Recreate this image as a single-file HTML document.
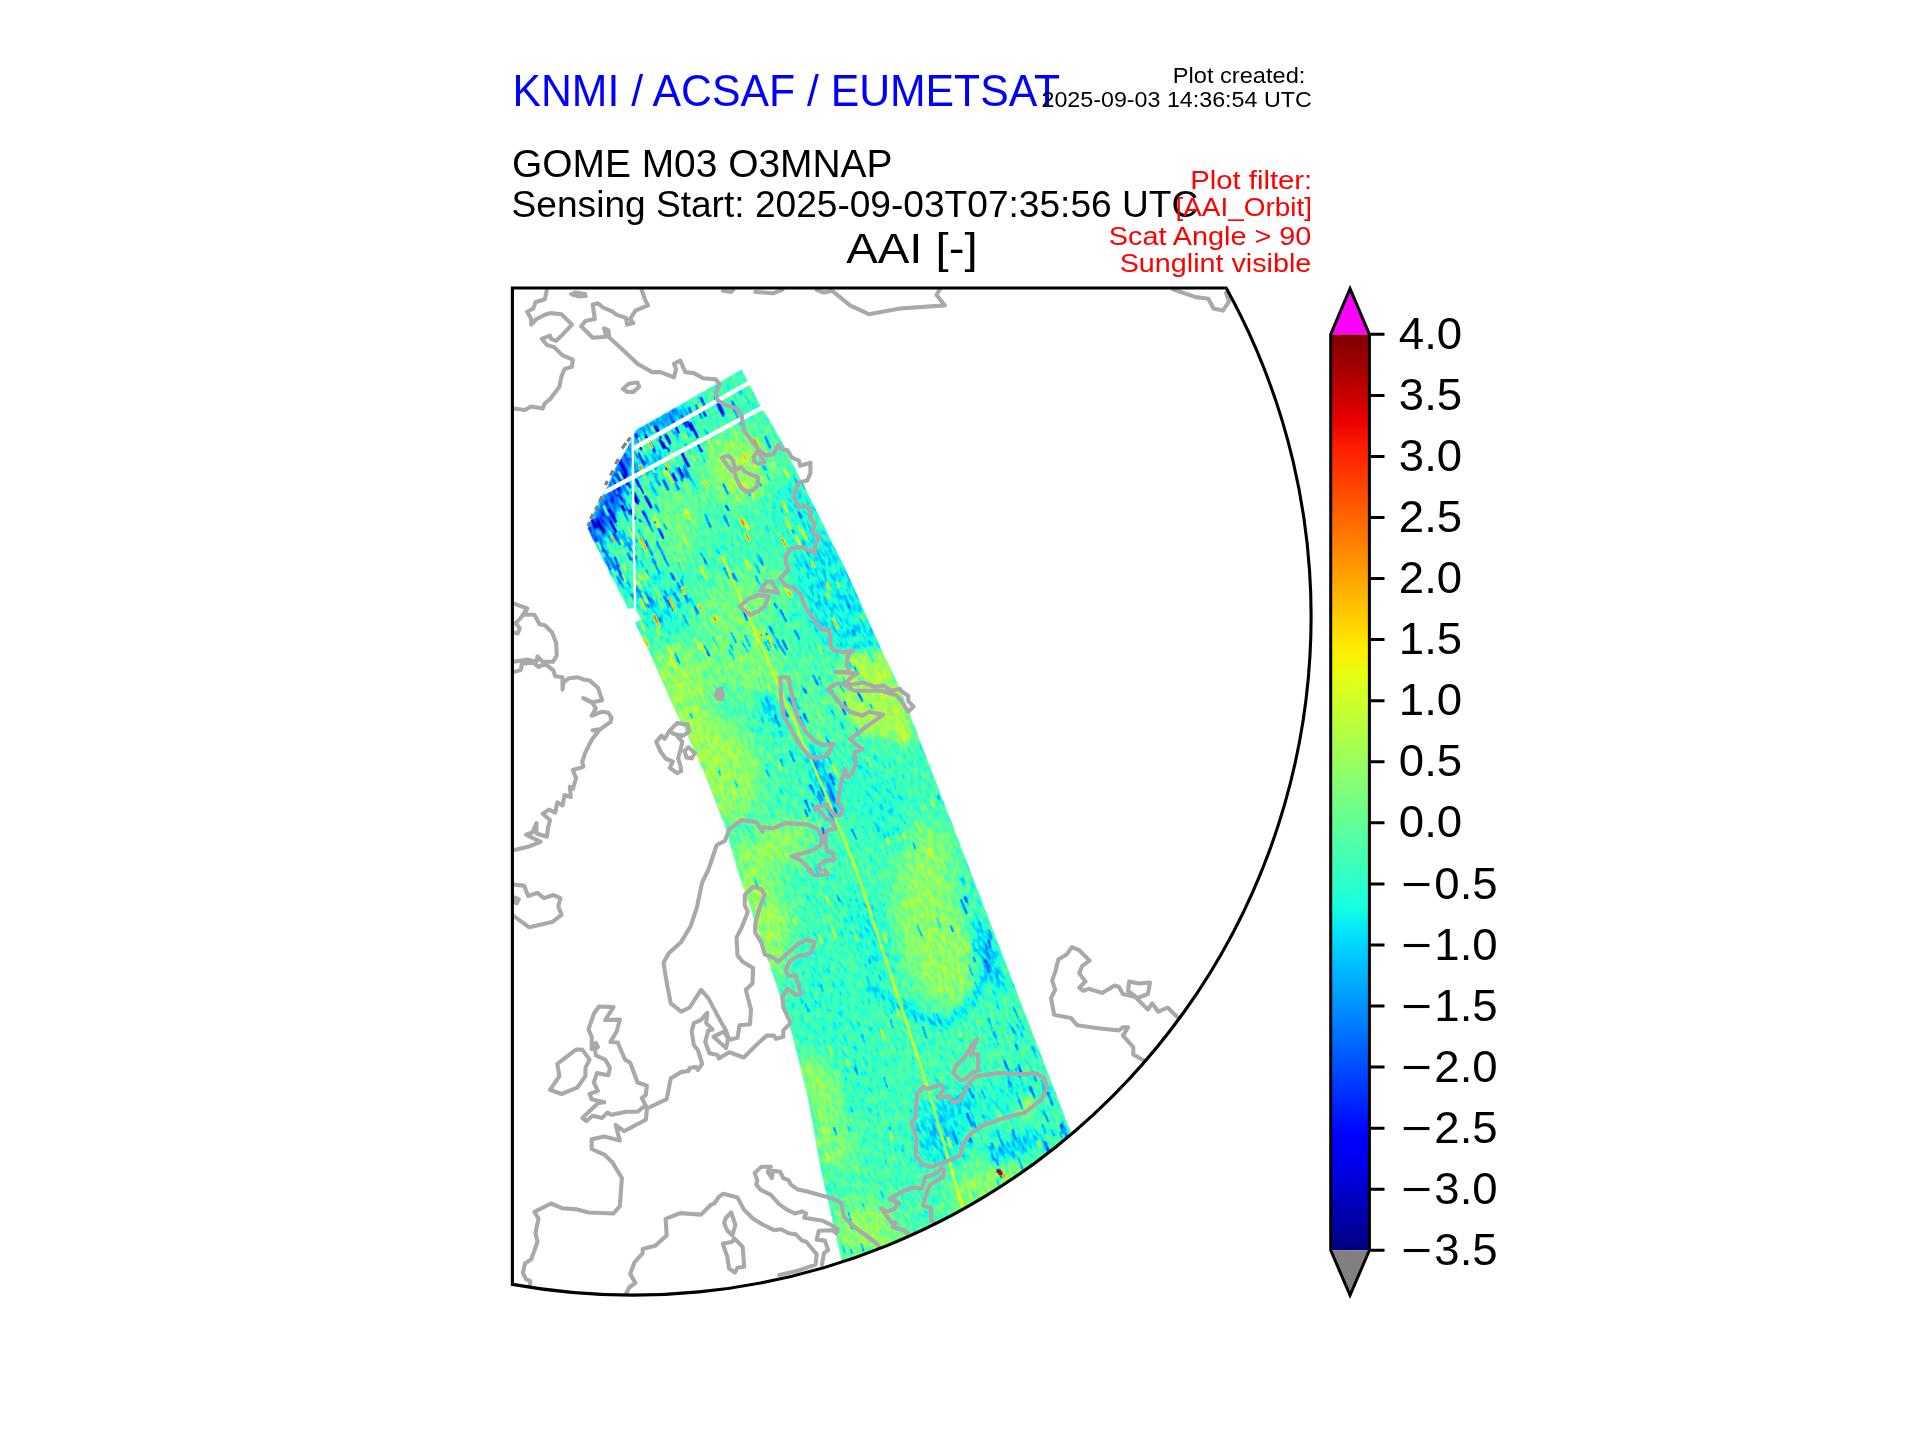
<!DOCTYPE html>
<html><head><meta charset="utf-8"><title>AAI</title>
<style>
html,body{margin:0;padding:0;background:#fff;overflow:hidden}
svg{display:block}
text{font-family:"Liberation Sans",sans-serif}
</style></head><body>
<svg width="1920" height="1440" viewBox="0 0 1920 1440">
<defs>
<linearGradient id="jet" x1="0" y1="0" x2="0" y2="1"><stop offset="0.0000" stop-color="#800000"/><stop offset="0.0312" stop-color="#9f0000"/><stop offset="0.0625" stop-color="#c40000"/><stop offset="0.0938" stop-color="#e80000"/><stop offset="0.1250" stop-color="#ff1e00"/><stop offset="0.1562" stop-color="#ff3b00"/><stop offset="0.1875" stop-color="#ff5900"/><stop offset="0.2188" stop-color="#ff7700"/><stop offset="0.2500" stop-color="#ff9400"/><stop offset="0.2812" stop-color="#ffb200"/><stop offset="0.3125" stop-color="#ffd000"/><stop offset="0.3438" stop-color="#feed00"/><stop offset="0.3750" stop-color="#e4ff13"/><stop offset="0.4062" stop-color="#caff2c"/><stop offset="0.4375" stop-color="#b1ff46"/><stop offset="0.4688" stop-color="#97ff60"/><stop offset="0.5000" stop-color="#7dff7a"/><stop offset="0.5312" stop-color="#63ff94"/><stop offset="0.5625" stop-color="#49ffad"/><stop offset="0.5938" stop-color="#30ffc7"/><stop offset="0.6250" stop-color="#16ffe1"/><stop offset="0.6562" stop-color="#00e0fb"/><stop offset="0.6875" stop-color="#00c0ff"/><stop offset="0.7188" stop-color="#00a0ff"/><stop offset="0.7500" stop-color="#0080ff"/><stop offset="0.7812" stop-color="#0060ff"/><stop offset="0.8125" stop-color="#0040ff"/><stop offset="0.8438" stop-color="#0020ff"/><stop offset="0.8750" stop-color="#0000ff"/><stop offset="0.9062" stop-color="#0000ed"/><stop offset="0.9375" stop-color="#0000c8"/><stop offset="0.9688" stop-color="#0000a4"/><stop offset="1.0000" stop-color="#000080"/></linearGradient>
<clipPath id="fclip"><path d="M512.4,288.0 L1226.2,288.0 A678.5,678.5 0 0 1 512.4,1284.4 Z"/></clipPath>
<clipPath id="sclip"><path d="M741.7,369.6 L760.4,405.4 L779.2,436.7 L800,478.3 L825,528.3 L845.8,570 L881.2,649.2 L900,688.8 L910.4,715.8 L970,870 L1070.8,1132.5 L1085,1170 L1000,1300 L850,1300 L841.7,1260.4 L820.8,1170 L808.3,1099.2 L791.7,1032.5 L775,980.4 L737.5,870 L725,826.2 L708.3,782.5 L687.5,734.6 L672.9,705.4 L650,653.3 L643.5,641 L635.2,622.3 L641.3,620 L635,607.7 L628,608.7 L608.3,570 L587.5,528.3 L598,503 L608,486 L616,467 L625,452 L631,441 L635.4,430.4Z"/></clipPath>
<filter id="bl" x="-50%" y="-50%" width="200%" height="200%" color-interpolation-filters="sRGB"><feGaussianBlur stdDeviation="10"/></filter>
<filter id="bl2" x="-50%" y="-50%" width="200%" height="200%" color-interpolation-filters="sRGB"><feGaussianBlur stdDeviation="4.5"/></filter>
<filter id="jetf" filterUnits="userSpaceOnUse" x="-200" y="300" width="1400" height="1400" color-interpolation-filters="sRGB">
<feTurbulence type="fractalNoise" baseFrequency="0.33 0.11" numOctaves="2" seed="7" result="n"/>
<feColorMatrix in="n" type="matrix" values="1 0 0 0 0 1 0 0 0 0 1 0 0 0 0 0 0 0 0 1" result="ng"/>
<feComposite in="SourceGraphic" in2="ng" operator="arithmetic" k1="0" k2="1" k3="0.26" k4="-0.13" result="v"/>
<feComponentTransfer in="v" result="c"><feFuncR type="table" tableValues="0.000 0.000 0.000 0.000 0.000 0.000 0.000 0.000 0.000 0.000 0.000 0.000 0.000 0.000 0.000 0.000 0.000 0.000 0.000 0.000 0.000 0.000 0.000 0.035 0.085 0.136 0.187 0.237 0.288 0.338 0.389 0.440 0.490 0.541 0.591 0.642 0.693 0.743 0.794 0.844 0.895 0.946 0.996 1.000 1.000 1.000 1.000 1.000 1.000 1.000 1.000 1.000 1.000 1.000 1.000 1.000 1.000 0.981 0.910 0.839 0.767 0.696 0.625 0.553 0.500"/><feFuncG type="table" tableValues="0.000 0.000 0.000 0.000 0.000 0.000 0.000 0.000 0.002 0.065 0.127 0.190 0.253 0.316 0.378 0.441 0.504 0.567 0.629 0.692 0.755 0.818 0.880 0.943 1.000 1.000 1.000 1.000 1.000 1.000 1.000 1.000 1.000 1.000 1.000 1.000 1.000 1.000 1.000 1.000 1.000 0.988 0.930 0.872 0.814 0.756 0.698 0.640 0.582 0.524 0.466 0.407 0.349 0.291 0.233 0.175 0.117 0.059 0.001 0.000 0.000 0.000 0.000 0.000 0.000"/><feFuncB type="table" tableValues="0.500 0.571 0.643 0.714 0.785 0.857 0.928 0.999 1.000 1.000 1.000 1.000 1.000 1.000 1.000 1.000 1.000 1.000 1.000 1.000 1.000 1.000 0.984 0.933 0.882 0.832 0.781 0.731 0.680 0.629 0.579 0.528 0.478 0.427 0.376 0.326 0.275 0.225 0.174 0.123 0.073 0.022 0.000 0.000 0.000 0.000 0.000 0.000 0.000 0.000 0.000 0.000 0.000 0.000 0.000 0.000 0.000 0.000 0.000 0.000 0.000 0.000 0.000 0.000 0.000"/></feComponentTransfer>
<feComposite in="c" in2="SourceAlpha" operator="in"/>
</filter>
</defs>
<rect width="1920" height="1440" fill="#fff"/>
<g clip-path="url(#fclip)">
<g transform="rotate(-24)" filter="url(#jetf)"><g transform="rotate(24)">
<g clip-path="url(#sclip)">
<rect x="500" y="280" width="700" height="1040" fill="#6d6d6d"/>
<g filter="url(#bl)"><ellipse cx="740" cy="468" rx="34" ry="34" transform="rotate(0 740 468)" fill="#888888"/><ellipse cx="672" cy="525" rx="32" ry="42" transform="rotate(20 672 525)" fill="#797979"/><ellipse cx="800" cy="520" rx="22" ry="50" transform="rotate(-25 800 520)" fill="#636363"/><ellipse cx="835" cy="595" rx="30" ry="62" transform="rotate(-25 835 595)" fill="#5a5a5a"/><ellipse cx="655" cy="600" rx="16" ry="38" transform="rotate(-24 655 600)" fill="#5c5c5c"/><ellipse cx="740" cy="600" rx="50" ry="28" transform="rotate(-24 740 600)" fill="#7a7a7a"/><ellipse cx="680" cy="682" rx="30" ry="36" transform="rotate(-24 680 682)" fill="#868686"/><ellipse cx="868" cy="692" rx="26" ry="38" transform="rotate(-24 868 692)" fill="#888888"/><ellipse cx="718" cy="768" rx="40" ry="55" transform="rotate(-24 718 768)" fill="#868686"/><ellipse cx="700" cy="740" rx="18" ry="50" transform="rotate(-24 700 740)" fill="#8b8b8b"/><ellipse cx="808" cy="700" rx="24" ry="40" transform="rotate(-24 808 700)" fill="#747474"/><ellipse cx="745" cy="655" rx="34" ry="46" transform="rotate(-24 745 655)" fill="#7e7e7e"/><ellipse cx="878" cy="800" rx="24" ry="50" transform="rotate(-24 878 800)" fill="#646464"/><ellipse cx="930" cy="850" rx="20" ry="24" transform="rotate(-20 930 850)" fill="#868686"/><ellipse cx="925" cy="885" rx="28" ry="36" transform="rotate(-20 925 885)" fill="#838383"/><ellipse cx="770" cy="848" rx="42" ry="22" transform="rotate(-20 770 848)" fill="#858585"/><ellipse cx="766" cy="922" rx="24" ry="58" transform="rotate(-20 766 922)" fill="#888888"/><ellipse cx="870" cy="932" rx="16" ry="44" transform="rotate(-20 870 932)" fill="#5f5f5f"/><ellipse cx="935" cy="942" rx="34" ry="70" transform="rotate(-20 935 942)" fill="#858585"/><ellipse cx="830" cy="1020" rx="34" ry="100" transform="rotate(-18 830 1020)" fill="#686868"/><ellipse cx="812" cy="1078" rx="14" ry="24" transform="rotate(-15 812 1078)" fill="#8b8b8b"/><ellipse cx="833" cy="1140" rx="20" ry="32" transform="rotate(-15 833 1140)" fill="#818181"/><ellipse cx="940" cy="1130" rx="24" ry="32" transform="rotate(0 940 1130)" fill="#555555"/><ellipse cx="1003" cy="1098" rx="40" ry="20" transform="rotate(-20 1003 1098)" fill="#636363"/><ellipse cx="868" cy="1228" rx="36" ry="30" transform="rotate(-20 868 1228)" fill="#858585"/><ellipse cx="988" cy="1186" rx="42" ry="20" transform="rotate(-25 988 1186)" fill="#858585"/><ellipse cx="909" cy="1206" rx="26" ry="20" transform="rotate(0 909 1206)" fill="#6d6d6d"/><ellipse cx="826" cy="1090" rx="14" ry="22" transform="rotate(-15 826 1090)" fill="#888888"/></g><g filter="url(#bl2)"><ellipse cx="604" cy="517" rx="10" ry="66" transform="rotate(24 604 517)" fill="#333333"/><ellipse cx="618" cy="468" rx="8" ry="32" transform="rotate(30 618 468)" fill="#3d3d3d"/><ellipse cx="661" cy="421" rx="30" ry="8" transform="rotate(-28 661 421)" fill="#444444"/><ellipse cx="650" cy="462" rx="18" ry="10" transform="rotate(-28 650 462)" fill="#4e4e4e"/><ellipse cx="823" cy="780" rx="8" ry="40" transform="rotate(-24 823 780)" fill="#505050"/><ellipse cx="770" cy="710" rx="7" ry="18" transform="rotate(-24 770 710)" fill="#525252"/><ellipse cx="988" cy="955" rx="9" ry="42" transform="rotate(-20 988 955)" fill="#555555"/><ellipse cx="1014" cy="1147" rx="30" ry="10" transform="rotate(-25 1014 1147)" fill="#555555"/><ellipse cx="1026" cy="1106" rx="10" ry="9" transform="rotate(0 1026 1106)" fill="#8f8f8f"/><ellipse cx="960" cy="1100" rx="14" ry="8" transform="rotate(0 960 1100)" fill="#555555"/><ellipse cx="905" cy="735" rx="6" ry="10" transform="rotate(0 905 735)" fill="#a0a0a0"/><path d="M846,654 L885,652 L912,712 L902,738 L862,734 L840,700Z" fill="#8c8c8c"/><path d="M803,562 L843,566 L884,648 L846,650 L816,620Z" fill="#5e5e5e"/><path d="M868,985 Q895,1008 940,1024 Q982,1012 988,950" fill="none" stroke="#4e4e4e" stroke-width="7"/></g>
<g fill="none" stroke-linecap="butt"><path d="M610.4,480.4l7.9,15.9" stroke="#1e1e1e" stroke-width="2.6"/><path d="M619.6,470.5l6.4,12.8" stroke="#131313" stroke-width="2.6"/><path d="M672.4,420.5l6.4,12.8" stroke="#141414" stroke-width="2.6"/><path d="M609.1,508.4l8.7,17.4" stroke="#0e0e0e" stroke-width="2.6"/><path d="M643.4,595.6l6.1,12.1" stroke="#3a3a3a" stroke-width="2.6"/><path d="M599.4,542.4l5.1,10.2" stroke="#343434" stroke-width="2.6"/><path d="M683.8,464.6l8.8,17.6" stroke="#414141" stroke-width="2.6"/><path d="M715.0,395.7l8.2,16.4" stroke="#434343" stroke-width="2.6"/><path d="M636.6,431.7l5.5,11.1" stroke="#4c4c4c" stroke-width="2.6"/><path d="M636.6,513.5l4.5,9.0" stroke="#303030" stroke-width="2.6"/><path d="M645.0,540.4l7.8,15.6" stroke="#3d3d3d" stroke-width="2.6"/><path d="M617.2,574.0l7.8,15.6" stroke="#4c4c4c" stroke-width="2.6"/><path d="M664.3,433.1l6.1,12.3" stroke="#525252" stroke-width="2.6"/><path d="M655.2,425.8l6.3,12.5" stroke="#131313" stroke-width="2.6"/><path d="M619.9,461.4l7.3,14.5" stroke="#0d0d0d" stroke-width="2.6"/><path d="M690.1,598.9l7.7,15.4" stroke="#555555" stroke-width="2.6"/><path d="M652.2,470.4l7.6,15.1" stroke="#2c2c2c" stroke-width="2.6"/><path d="M688.6,407.6l5.0,10.0" stroke="#373737" stroke-width="2.6"/><path d="M674.8,481.3l4.3,8.6" stroke="#434343" stroke-width="2.6"/><path d="M619.9,538.2l3.6,7.2" stroke="#3a3a3a" stroke-width="2.6"/><path d="M631.5,593.3l4.1,8.2" stroke="#404040" stroke-width="2.6"/><path d="M621.7,505.1l3.1,6.3" stroke="#070707" stroke-width="2.6"/><path d="M606.4,496.7l6.7,13.3" stroke="#454545" stroke-width="2.6"/><path d="M678.4,414.7l5.5,11.0" stroke="#454545" stroke-width="2.6"/><path d="M640.2,590.7l4.5,9.1" stroke="#5a5a5a" stroke-width="2.6"/><path d="M615.0,534.4l4.6,9.2" stroke="#454545" stroke-width="2.6"/><path d="M603.3,536.8l3.5,7.0" stroke="#474747" stroke-width="2.6"/><path d="M666.2,435.0l4.3,8.6" stroke="#111111" stroke-width="2.6"/><path d="M626.0,578.3l4.8,9.7" stroke="#4b4b4b" stroke-width="2.6"/><path d="M628.9,537.1l7.8,15.5" stroke="#3e3e3e" stroke-width="2.6"/><path d="M623.4,482.5l6.1,12.3" stroke="#343434" stroke-width="2.6"/><path d="M590.2,524.0l5.3,10.6" stroke="#3e3e3e" stroke-width="2.6"/><path d="M698.7,402.2l7.1,14.2" stroke="#262626" stroke-width="2.6"/><path d="M615.7,487.1l7.4,14.8" stroke="#2c2c2c" stroke-width="2.6"/><path d="M626.7,449.4l5.1,10.3" stroke="#4f4f4f" stroke-width="2.6"/><path d="M623.2,533.6l8.6,17.1" stroke="#343434" stroke-width="2.6"/><path d="M596.4,518.5l5.4,10.9" stroke="#151515" stroke-width="2.6"/><path d="M675.5,466.6l7.3,14.7" stroke="#494949" stroke-width="2.6"/><path d="M635.2,433.9l7.9,15.8" stroke="#191919" stroke-width="2.6"/><path d="M609.8,482.0l3.8,7.6" stroke="#2f2f2f" stroke-width="2.6"/><path d="M614.4,557.2l5.0,10.0" stroke="#353535" stroke-width="2.6"/><path d="M682.9,468.6l4.8,9.6" stroke="#4a4a4a" stroke-width="2.6"/><path d="M680.3,413.8l6.3,12.7" stroke="#3a3a3a" stroke-width="2.6"/><path d="M635.8,479.1l7.7,15.3" stroke="#131313" stroke-width="2.6"/><path d="M627.5,504.0l7.7,15.4" stroke="#141414" stroke-width="2.6"/><path d="M610.7,480.0l7.0,14.0" stroke="#4b4b4b" stroke-width="2.6"/><path d="M666.4,467.5l7.0,13.9" stroke="#080808" stroke-width="2.6"/><path d="M605.3,491.4l5.0,9.9" stroke="#454545" stroke-width="2.6"/><path d="M683.5,420.7l3.5,6.9" stroke="#0f0f0f" stroke-width="2.6"/><path d="M624.3,590.2l4.1,8.3" stroke="#5d5d5d" stroke-width="2.6"/><path d="M627.3,458.3l3.7,7.4" stroke="#2e2e2e" stroke-width="2.6"/><path d="M685.4,428.2l4.5,9.1" stroke="#555555" stroke-width="2.6"/><path d="M689.9,598.1l8.4,16.7" stroke="#4b4b4b" stroke-width="2.6"/><path d="M653.8,585.8l4.1,8.1" stroke="#535353" stroke-width="2.6"/><path d="M607.9,569.1l4.3,8.5" stroke="#565656" stroke-width="2.6"/><path d="M627.3,552.5l3.8,7.7" stroke="#3f3f3f" stroke-width="2.6"/><path d="M697.6,443.3l4.4,8.9" stroke="#242424" stroke-width="2.6"/><path d="M627.7,536.3l6.4,12.8" stroke="#505050" stroke-width="2.6"/><path d="M670.6,572.3l3.8,7.5" stroke="#343434" stroke-width="2.6"/><path d="M677.2,582.3l5.3,10.5" stroke="#454545" stroke-width="2.6"/><path d="M608.6,535.4l3.8,7.6" stroke="#3e3e3e" stroke-width="2.6"/><path d="M650.0,457.3l4.1,8.3" stroke="#404040" stroke-width="2.6"/><path d="M640.4,593.8l6.4,12.9" stroke="#4f4f4f" stroke-width="2.6"/><path d="M636.0,558.6l6.1,12.3" stroke="#535353" stroke-width="2.6"/><path d="M714.9,399.9l8.4,16.7" stroke="#3d3d3d" stroke-width="2.6"/><path d="M666.0,436.3l3.3,6.6" stroke="#262626" stroke-width="2.6"/><path d="M659.5,439.2l4.6,9.2" stroke="#0e0e0e" stroke-width="2.6"/><path d="M609.9,557.7l6.4,12.8" stroke="#343434" stroke-width="2.6"/><path d="M642.8,510.5l7.7,15.4" stroke="#202020" stroke-width="2.6"/><path d="M687.2,421.3l4.9,9.8" stroke="#1d1d1d" stroke-width="2.6"/><path d="M647.9,438.1l7.1,14.2" stroke="#262626" stroke-width="2.6"/><path d="M629.9,527.5l7.8,15.7" stroke="#4c4c4c" stroke-width="2.6"/><path d="M651.4,598.0l6.3,12.5" stroke="#505050" stroke-width="2.6"/><path d="M665.1,594.1l8.5,16.9" stroke="#3a3a3a" stroke-width="2.6"/><path d="M649.8,481.5l7.4,14.8" stroke="#484848" stroke-width="2.6"/><path d="M637.3,449.6l5.5,11.1" stroke="#252525" stroke-width="2.6"/><path d="M668.7,414.0l6.9,13.7" stroke="#414141" stroke-width="2.6"/><path d="M663.0,442.1l7.5,15.0" stroke="#131313" stroke-width="2.6"/><path d="M623.7,474.4l6.8,13.6" stroke="#202020" stroke-width="2.6"/><path d="M632.2,466.1l3.9,7.9" stroke="#434343" stroke-width="2.6"/><path d="M652.7,471.7l6.4,12.9" stroke="#4d4d4d" stroke-width="2.6"/><path d="M605.2,558.3l5.8,11.5" stroke="#333333" stroke-width="2.6"/><path d="M604.9,549.8l8.8,17.6" stroke="#3d3d3d" stroke-width="2.6"/><path d="M622.7,499.2l7.9,15.9" stroke="#353535" stroke-width="2.6"/><path d="M623.6,575.6l3.7,7.4" stroke="#3b3b3b" stroke-width="2.6"/><path d="M695.4,404.5l7.1,14.2" stroke="#424242" stroke-width="2.6"/><path d="M603.4,555.1l3.5,7.0" stroke="#505050" stroke-width="2.6"/><path d="M654.9,521.2l8.8,17.6" stroke="#1f1f1f" stroke-width="2.6"/><path d="M620.6,459.6l3.8,7.7" stroke="#292929" stroke-width="2.6"/><path d="M595.2,526.6l3.7,7.4" stroke="#515151" stroke-width="2.6"/><path d="M612.9,532.8l3.9,7.9" stroke="#3c3c3c" stroke-width="2.6"/><path d="M680.4,450.0l8.5,17.0" stroke="#0a0a0a" stroke-width="2.6"/><path d="M680.8,587.0l7.7,15.5" stroke="#3d3d3d" stroke-width="2.6"/><path d="M674.6,593.2l3.9,7.9" stroke="#353535" stroke-width="2.6"/><path d="M642.9,472.5l3.3,6.5" stroke="#515151" stroke-width="2.6"/><path d="M614.1,532.9l6.0,12.0" stroke="#383838" stroke-width="2.6"/><path d="M640.9,548.3l3.3,6.5" stroke="#575757" stroke-width="2.6"/><path d="M678.4,467.6l5.1,10.2" stroke="#171717" stroke-width="2.6"/><path d="M645.4,435.1l3.5,7.1" stroke="#141414" stroke-width="2.6"/><path d="M631.6,491.9l6.4,12.7" stroke="#111111" stroke-width="2.6"/><path d="M618.2,535.2l6.6,13.2" stroke="#5c5c5c" stroke-width="2.6"/><path d="M667.3,447.4l6.1,12.3" stroke="#242424" stroke-width="2.6"/><path d="M617.1,477.2l3.7,7.4" stroke="#4f4f4f" stroke-width="2.6"/><path d="M592.4,526.3l7.8,15.6" stroke="#3b3b3b" stroke-width="2.6"/><path d="M618.5,530.8l7.8,15.5" stroke="#454545" stroke-width="2.6"/><path d="M664.3,590.8l5.7,11.5" stroke="#383838" stroke-width="2.6"/><path d="M630.0,447.9l6.2,12.3" stroke="#464646" stroke-width="2.6"/><path d="M630.9,547.1l5.6,11.2" stroke="#3f3f3f" stroke-width="2.6"/><path d="M640.2,559.8l7.0,14.0" stroke="#4c4c4c" stroke-width="2.6"/><path d="M631.9,557.1l4.7,9.3" stroke="#444444" stroke-width="2.6"/><path d="M630.9,458.5l8.4,16.7" stroke="#3e3e3e" stroke-width="2.6"/><path d="M610.2,520.8l6.0,11.9" stroke="#0f0f0f" stroke-width="2.6"/><path d="M634.2,492.3l5.2,10.3" stroke="#2e2e2e" stroke-width="2.6"/><path d="M690.0,599.9l3.6,7.2" stroke="#5d5d5d" stroke-width="2.6"/><path d="M652.4,557.9l7.8,15.6" stroke="#3c3c3c" stroke-width="2.6"/><path d="M689.9,422.1l7.9,15.9" stroke="#0f0f0f" stroke-width="2.6"/><path d="M715.5,397.9l8.4,16.8" stroke="#1b1b1b" stroke-width="2.6"/><path d="M615.9,565.0l8.0,16.0" stroke="#343434" stroke-width="2.6"/><path d="M597.5,519.7l6.8,13.7" stroke="#090909" stroke-width="2.6"/><path d="M589.5,527.7l5.7,11.4" stroke="#363636" stroke-width="2.6"/><path d="M616.8,473.6l5.0,10.1" stroke="#2c2c2c" stroke-width="2.6"/><path d="M622.1,530.1l6.2,12.3" stroke="#595959" stroke-width="2.6"/><path d="M614.0,479.2l7.1,14.2" stroke="#232323" stroke-width="2.6"/><path d="M635.6,586.6l3.2,6.4" stroke="#424242" stroke-width="2.6"/><path d="M645.2,591.7l7.9,15.8" stroke="#434343" stroke-width="2.6"/><path d="M592.2,519.7l4.3,8.6" stroke="#0f0f0f" stroke-width="2.6"/><path d="M623.1,477.5l6.4,12.7" stroke="#3a3a3a" stroke-width="2.6"/><path d="M637.8,444.2l3.3,6.5" stroke="#101010" stroke-width="2.6"/><path d="M672.5,473.2l4.2,8.5" stroke="#272727" stroke-width="2.6"/><path d="M621.4,474.9l5.5,11.0" stroke="#151515" stroke-width="2.6"/><path d="M656.5,541.1l8.4,16.8" stroke="#434343" stroke-width="2.6"/><path d="M700.6,397.4l5.8,11.6" stroke="#313131" stroke-width="2.6"/><path d="M638.2,529.4l6.1,12.3" stroke="#464646" stroke-width="2.6"/><path d="M649.2,587.9l3.3,6.6" stroke="#414141" stroke-width="2.6"/><path d="M663.2,479.5l5.5,11.1" stroke="#323232" stroke-width="2.6"/><path d="M638.1,449.1l3.6,7.2" stroke="#444444" stroke-width="2.6"/><path d="M645.0,495.2l6.5,12.9" stroke="#0e0e0e" stroke-width="2.6"/><path d="M637.3,450.1l7.7,15.4" stroke="#222222" stroke-width="2.6"/><path d="M673.2,593.0l7.1,14.3" stroke="#4a4a4a" stroke-width="2.6"/><path d="M612.1,547.7l3.0,6.1" stroke="#7d7d7d" stroke-width="2.4"/><path d="M634.3,508.1l5.3,10.6" stroke="#747474" stroke-width="2.4"/><path d="M626.3,502.6l3.6,7.1" stroke="#6d6d6d" stroke-width="2.4"/><path d="M641.8,484.3l6.1,12.2" stroke="#666666" stroke-width="2.4"/><path d="M649.2,434.2l5.1,10.3" stroke="#707070" stroke-width="2.4"/><path d="M641.7,559.2l5.1,10.1" stroke="#777777" stroke-width="2.4"/><path d="M647.8,454.3l4.9,9.9" stroke="#696969" stroke-width="2.4"/><path d="M661.5,434.4l6.2,12.5" stroke="#767676" stroke-width="2.4"/><path d="M652.8,464.1l3.8,7.6" stroke="#6d6d6d" stroke-width="2.4"/><path d="M639.6,568.3l6.0,12.0" stroke="#7e7e7e" stroke-width="2.4"/><path d="M646.1,430.4l4.8,9.5" stroke="#6a6a6a" stroke-width="2.4"/><path d="M641.6,574.7l5.4,10.8" stroke="#7f7f7f" stroke-width="2.4"/><path d="M637.1,550.3l4.4,8.7" stroke="#676767" stroke-width="2.4"/><path d="M629.9,517.8l4.9,9.8" stroke="#6c6c6c" stroke-width="2.4"/><path d="M635.0,446.7l3.1,6.2" stroke="#787878" stroke-width="2.4"/><path d="M626.6,485.8l6.2,12.3" stroke="#6d6d6d" stroke-width="2.4"/><path d="M609.1,541.1l4.1,8.1" stroke="#707070" stroke-width="2.4"/><path d="M603.4,505.6l5.0,10.0" stroke="#747474" stroke-width="2.4"/><path d="M665.7,449.0l6.2,12.4" stroke="#6b6b6b" stroke-width="2.4"/><path d="M638.5,487.9l4.5,9.0" stroke="#747474" stroke-width="2.4"/><path d="M633.9,560.0l3.6,7.3" stroke="#727272" stroke-width="2.4"/><path d="M642.7,567.8l5.8,11.6" stroke="#7b7b7b" stroke-width="2.4"/><path d="M597.3,541.9l4.0,8.0" stroke="#787878" stroke-width="2.4"/><path d="M618.6,471.3l4.8,9.6" stroke="#7a7a7a" stroke-width="2.4"/><path d="M658.8,599.3l4.3,8.6" stroke="#646464" stroke-width="2.4"/><path d="M632.0,545.6l4.5,9.1" stroke="#747474" stroke-width="2.4"/><path d="M642.6,445.7l4.8,9.6" stroke="#7b7b7b" stroke-width="2.4"/><path d="M642.0,485.2l4.8,9.6" stroke="#747474" stroke-width="2.4"/><path d="M646.1,464.2l3.2,6.3" stroke="#6f6f6f" stroke-width="2.4"/><path d="M650.9,580.7l6.1,12.1" stroke="#696969" stroke-width="2.4"/><path d="M637.9,583.8l3.3,6.5" stroke="#7e7e7e" stroke-width="2.4"/><path d="M662.5,591.5l4.0,7.9" stroke="#696969" stroke-width="2.4"/><path d="M649.6,587.2l6.0,12.0" stroke="#797979" stroke-width="2.4"/><path d="M657.4,597.4l5.6,11.2" stroke="#7f7f7f" stroke-width="2.4"/><path d="M634.9,503.1l4.2,8.3" stroke="#808080" stroke-width="2.4"/><path d="M616.4,522.2l2.7,5.4" stroke="#6d6d6d" stroke-width="2.4"/><path d="M614.4,476.7l3.8,7.6" stroke="#6a6a6a" stroke-width="2.4"/><path d="M638.6,448.5l5.8,11.5" stroke="#696969" stroke-width="2.4"/><path d="M637.5,549.0l2.7,5.4" stroke="#787878" stroke-width="2.4"/><path d="M633.5,452.9l3.8,7.6" stroke="#7f7f7f" stroke-width="2.4"/><path d="M659.0,617.2l2.6,5.2" stroke="#3a3a3a" stroke-width="2.3"/><path d="M800.8,480.1l4.8,9.5" stroke="#4b4b4b" stroke-width="2.3"/><path d="M636.4,584.7l6.1,12.2" stroke="#4b4b4b" stroke-width="2.3"/><path d="M811.1,532.8l3.6,7.3" stroke="#525252" stroke-width="2.3"/><path d="M703.8,645.1l5.5,11.0" stroke="#3a3a3a" stroke-width="2.3"/><path d="M745.2,558.4l2.9,5.8" stroke="#adadad" stroke-width="2.3"/><path d="M743.6,482.9l5.4,10.9" stroke="#adadad" stroke-width="2.3"/><path d="M622.5,564.0l3.7,7.3" stroke="#a0a0a0" stroke-width="2.3"/><path d="M694.7,605.9l4.2,8.4" stroke="#414141" stroke-width="2.3"/><path d="M760.1,632.9l2.3,4.6" stroke="#c5c5c5" stroke-width="2.3"/><path d="M812.2,621.0l5.1,10.2" stroke="#4b4b4b" stroke-width="2.3"/><path d="M637.3,580.1l4.1,8.2" stroke="#a0a0a0" stroke-width="2.3"/><path d="M765.9,633.0l5.0,9.9" stroke="#414141" stroke-width="2.3"/><path d="M793.1,474.2l4.1,8.1" stroke="#555555" stroke-width="2.3"/><path d="M678.1,559.6l5.8,11.6" stroke="#999999" stroke-width="2.3"/><path d="M822.2,627.4l2.3,4.5" stroke="#999999" stroke-width="2.3"/><path d="M639.8,598.5l6.7,13.4" stroke="#999999" stroke-width="2.3"/><path d="M755.1,575.2l5.9,11.7" stroke="#4b4b4b" stroke-width="2.3"/><path d="M818.5,647.1l3.4,6.9" stroke="#969696" stroke-width="2.3"/><path d="M700.4,567.2l5.9,11.7" stroke="#adadad" stroke-width="2.3"/><path d="M832.3,617.6l6.0,12.0" stroke="#adadad" stroke-width="2.3"/><path d="M629.1,460.1l6.5,13.0" stroke="#4b4b4b" stroke-width="2.3"/><path d="M801.6,554.1l5.6,11.2" stroke="#555555" stroke-width="2.3"/><path d="M715.6,385.5l3.1,6.2" stroke="#555555" stroke-width="2.3"/><path d="M684.6,434.0l2.6,5.1" stroke="#a0a0a0" stroke-width="2.3"/><path d="M701.0,454.6l4.1,8.3" stroke="#555555" stroke-width="2.3"/><path d="M753.5,438.4l4.9,9.7" stroke="#c5c5c5" stroke-width="2.3"/><path d="M684.6,508.0l5.8,11.6" stroke="#a0a0a0" stroke-width="2.3"/><path d="M742.4,452.3l4.1,8.2" stroke="#adadad" stroke-width="2.3"/><path d="M666.8,645.0l6.0,12.1" stroke="#a0a0a0" stroke-width="2.3"/><path d="M669.8,451.8l5.1,10.3" stroke="#999999" stroke-width="2.3"/><path d="M742.8,518.9l5.8,11.5" stroke="#adadad" stroke-width="2.3"/><path d="M663.0,555.2l4.0,7.9" stroke="#4b4b4b" stroke-width="2.3"/><path d="M690.8,453.1l4.6,9.2" stroke="#969696" stroke-width="2.3"/><path d="M667.0,470.2l6.5,13.1" stroke="#a0a0a0" stroke-width="2.3"/><path d="M699.8,641.5l5.6,11.2" stroke="#a0a0a0" stroke-width="2.3"/><path d="M657.8,480.3l2.9,5.7" stroke="#3a3a3a" stroke-width="2.3"/><path d="M622.1,478.7l3.8,7.7" stroke="#3a3a3a" stroke-width="2.3"/><path d="M733.0,573.0l4.5,8.9" stroke="#414141" stroke-width="2.3"/><path d="M839.5,569.9l3.0,5.9" stroke="#4b4b4b" stroke-width="2.3"/><path d="M650.9,465.4l3.6,7.1" stroke="#969696" stroke-width="2.3"/><path d="M639.4,465.2l6.1,12.3" stroke="#c5c5c5" stroke-width="2.3"/><path d="M651.2,426.3l2.6,5.1" stroke="#a0a0a0" stroke-width="2.3"/><path d="M852.3,630.3l2.8,5.6" stroke="#3a3a3a" stroke-width="2.3"/><path d="M861.0,615.2l3.1,6.1" stroke="#969696" stroke-width="2.3"/><path d="M783.4,583.5l5.9,11.8" stroke="#a0a0a0" stroke-width="2.3"/><path d="M656.2,627.9l3.9,7.9" stroke="#999999" stroke-width="2.3"/><path d="M782.4,501.8l6.0,12.0" stroke="#adadad" stroke-width="2.3"/><path d="M623.3,510.7l5.3,10.5" stroke="#4b4b4b" stroke-width="2.3"/><path d="M801.6,529.7l5.4,10.9" stroke="#adadad" stroke-width="2.3"/><path d="M639.9,620.6l5.0,10.0" stroke="#999999" stroke-width="2.3"/><path d="M643.2,636.1l5.7,11.4" stroke="#adadad" stroke-width="2.3"/><path d="M663.6,596.3l5.8,11.6" stroke="#414141" stroke-width="2.3"/><path d="M767.1,635.5l6.0,12.0" stroke="#c5c5c5" stroke-width="2.3"/><path d="M707.8,439.1l6.6,13.2" stroke="#999999" stroke-width="2.3"/><path d="M730.9,487.2l2.7,5.3" stroke="#999999" stroke-width="2.3"/><path d="M756.9,552.7l6.4,12.9" stroke="#4b4b4b" stroke-width="2.3"/><path d="M755.4,474.8l5.8,11.5" stroke="#3a3a3a" stroke-width="2.3"/><path d="M800.3,517.5l6.6,13.3" stroke="#525252" stroke-width="2.3"/><path d="M749.2,489.2l5.1,10.3" stroke="#999999" stroke-width="2.3"/><path d="M677.7,642.9l2.8,5.5" stroke="#969696" stroke-width="2.3"/><path d="M783.8,467.4l5.4,10.9" stroke="#adadad" stroke-width="2.3"/><path d="M843.7,595.5l6.4,12.8" stroke="#414141" stroke-width="2.3"/><path d="M728.8,649.3l5.5,10.9" stroke="#525252" stroke-width="2.3"/><path d="M774.1,644.2l3.7,7.4" stroke="#525252" stroke-width="2.3"/><path d="M785.5,587.7l3.1,6.2" stroke="#a0a0a0" stroke-width="2.3"/><path d="M600.7,531.2l2.3,4.7" stroke="#414141" stroke-width="2.3"/><path d="M629.0,528.4l5.7,11.5" stroke="#999999" stroke-width="2.3"/><path d="M837.0,582.1l2.6,5.2" stroke="#999999" stroke-width="2.3"/><path d="M798.8,489.6l3.0,6.0" stroke="#555555" stroke-width="2.3"/><path d="M745.9,396.4l3.7,7.4" stroke="#525252" stroke-width="2.3"/><path d="M700.9,552.7l5.5,11.0" stroke="#414141" stroke-width="2.3"/><path d="M764.8,436.5l5.8,11.7" stroke="#3a3a3a" stroke-width="2.3"/><path d="M655.7,523.5l2.3,4.6" stroke="#969696" stroke-width="2.3"/><path d="M704.6,428.4l4.8,9.6" stroke="#4b4b4b" stroke-width="2.3"/><path d="M735.0,405.4l4.0,8.1" stroke="#414141" stroke-width="2.3"/><path d="M665.2,559.3l3.7,7.4" stroke="#4b4b4b" stroke-width="2.3"/><path d="M731.7,400.4l2.8,5.6" stroke="#414141" stroke-width="2.3"/><path d="M786.3,521.1l5.8,11.5" stroke="#adadad" stroke-width="2.3"/><path d="M798.5,495.6l6.4,12.9" stroke="#525252" stroke-width="2.3"/><path d="M768.9,625.6l6.4,12.8" stroke="#414141" stroke-width="2.3"/><path d="M745.9,533.5l3.6,7.3" stroke="#c5c5c5" stroke-width="2.3"/><path d="M774.3,602.4l3.1,6.1" stroke="#3a3a3a" stroke-width="2.3"/><path d="M622.2,574.0l4.1,8.1" stroke="#999999" stroke-width="2.3"/><path d="M744.5,634.7l5.9,11.8" stroke="#4b4b4b" stroke-width="2.3"/><path d="M785.3,517.6l4.8,9.5" stroke="#969696" stroke-width="2.3"/><path d="M685.4,443.3l5.5,11.0" stroke="#525252" stroke-width="2.3"/><path d="M653.5,614.5l6.5,13.0" stroke="#c5c5c5" stroke-width="2.3"/><path d="M741.4,607.8l6.5,12.9" stroke="#3a3a3a" stroke-width="2.3"/><path d="M730.1,644.5l3.3,6.6" stroke="#4b4b4b" stroke-width="2.3"/><path d="M680.8,579.6l2.9,5.8" stroke="#414141" stroke-width="2.3"/><path d="M694.5,638.2l5.3,10.7" stroke="#969696" stroke-width="2.3"/><path d="M723.7,567.5l5.8,11.5" stroke="#4b4b4b" stroke-width="2.3"/><path d="M791.5,528.9l2.4,4.7" stroke="#414141" stroke-width="2.3"/><path d="M671.4,572.6l4.1,8.2" stroke="#414141" stroke-width="2.3"/><path d="M758.6,458.1l6.5,13.0" stroke="#525252" stroke-width="2.3"/><path d="M825.9,541.1l5.5,11.1" stroke="#4b4b4b" stroke-width="2.3"/><path d="M681.8,534.3l6.4,12.7" stroke="#a0a0a0" stroke-width="2.3"/><path d="M712.8,637.1l5.9,11.8" stroke="#555555" stroke-width="2.3"/><path d="M677.6,561.4l5.0,10.1" stroke="#555555" stroke-width="2.3"/><path d="M737.0,386.4l4.7,9.4" stroke="#525252" stroke-width="2.3"/><path d="M722.6,483.3l5.7,11.3" stroke="#414141" stroke-width="2.3"/><path d="M741.7,640.2l6.3,12.6" stroke="#525252" stroke-width="2.3"/><path d="M753.8,561.9l5.9,11.7" stroke="#555555" stroke-width="2.3"/><path d="M605.5,546.2l3.9,7.9" stroke="#555555" stroke-width="2.3"/><path d="M668.5,422.6l5.9,11.8" stroke="#4b4b4b" stroke-width="2.3"/><path d="M714.0,643.2l3.1,6.1" stroke="#a0a0a0" stroke-width="2.3"/><path d="M781.8,538.3l4.3,8.6" stroke="#c5c5c5" stroke-width="2.3"/><path d="M704.3,514.1l6.7,13.4" stroke="#414141" stroke-width="2.3"/><path d="M663.2,469.7l3.2,6.5" stroke="#999999" stroke-width="2.3"/><path d="M703.9,481.5l2.7,5.4" stroke="#c5c5c5" stroke-width="2.3"/><path d="M766.2,473.2l4.1,8.2" stroke="#555555" stroke-width="2.3"/><path d="M674.8,430.1l3.6,7.1" stroke="#4b4b4b" stroke-width="2.3"/><path d="M811.6,561.3l3.1,6.3" stroke="#adadad" stroke-width="2.3"/><path d="M648.6,523.5l4.8,9.5" stroke="#414141" stroke-width="2.3"/><path d="M634.3,578.6l3.0,6.0" stroke="#a0a0a0" stroke-width="2.3"/><path d="M732.8,408.2l4.0,7.9" stroke="#4b4b4b" stroke-width="2.3"/><path d="M668.7,597.3l6.2,12.4" stroke="#c5c5c5" stroke-width="2.3"/><path d="M644.9,572.7l2.9,5.7" stroke="#a0a0a0" stroke-width="2.3"/><path d="M652.0,460.0l4.9,9.9" stroke="#555555" stroke-width="2.3"/><path d="M725.8,505.5l2.8,5.6" stroke="#3a3a3a" stroke-width="2.3"/><path d="M788.1,487.9l2.9,5.8" stroke="#525252" stroke-width="2.3"/><path d="M715.8,547.6l3.4,6.8" stroke="#4b4b4b" stroke-width="2.3"/><path d="M633.7,450.9l4.2,8.5" stroke="#4b4b4b" stroke-width="2.3"/><path d="M647.7,439.0l4.7,9.4" stroke="#c5c5c5" stroke-width="2.3"/><path d="M746.4,488.6l3.9,7.7" stroke="#4b4b4b" stroke-width="2.3"/><path d="M797.6,524.5l3.1,6.3" stroke="#999999" stroke-width="2.3"/><path d="M655.1,588.3l4.7,9.5" stroke="#999999" stroke-width="2.3"/><path d="M826.7,593.7l2.4,4.8" stroke="#adadad" stroke-width="2.3"/><path d="M620.7,540.0l2.7,5.3" stroke="#999999" stroke-width="2.3"/><path d="M798.1,511.8l3.2,6.3" stroke="#3a3a3a" stroke-width="2.3"/><path d="M638.2,437.4l6.4,12.8" stroke="#969696" stroke-width="2.3"/><path d="M681.5,587.4l3.7,7.3" stroke="#c5c5c5" stroke-width="2.3"/><path d="M730.9,573.1l3.5,6.9" stroke="#414141" stroke-width="2.3"/><path d="M767.3,639.6l4.2,8.4" stroke="#4b4b4b" stroke-width="2.3"/><path d="M655.6,473.3l4.1,8.2" stroke="#555555" stroke-width="2.3"/><path d="M663.3,457.4l5.9,11.8" stroke="#c5c5c5" stroke-width="2.3"/><path d="M655.0,517.6l5.2,10.4" stroke="#969696" stroke-width="2.3"/><path d="M682.4,404.8l5.5,11.0" stroke="#525252" stroke-width="2.3"/><path d="M743.9,557.4l5.5,11.1" stroke="#999999" stroke-width="2.3"/><path d="M806.6,564.8l5.4,10.8" stroke="#525252" stroke-width="2.3"/><path d="M698.7,604.6l2.5,5.1" stroke="#c5c5c5" stroke-width="2.3"/><path d="M739.7,517.3l4.8,9.5" stroke="#c5c5c5" stroke-width="2.3"/><path d="M731.0,632.1l5.7,11.4" stroke="#4b4b4b" stroke-width="2.3"/><path d="M682.5,614.3l6.4,12.7" stroke="#4b4b4b" stroke-width="2.3"/><path d="M692.4,480.9l4.5,8.9" stroke="#4b4b4b" stroke-width="2.3"/><path d="M736.9,415.8l5.4,10.8" stroke="#4b4b4b" stroke-width="2.3"/><path d="M826.4,583.1l3.3,6.6" stroke="#adadad" stroke-width="2.3"/><path d="M723.4,514.9l5.8,11.5" stroke="#3a3a3a" stroke-width="2.3"/><path d="M639.9,537.2l6.6,13.2" stroke="#c5c5c5" stroke-width="2.3"/><path d="M713.4,615.7l2.6,5.2" stroke="#c5c5c5" stroke-width="2.3"/><path d="M617.0,576.2l3.6,7.3" stroke="#3a3a3a" stroke-width="2.3"/><path d="M599.3,531.1l6.7,13.4" stroke="#525252" stroke-width="2.3"/><path d="M764.8,465.1l2.9,5.9" stroke="#525252" stroke-width="2.3"/><path d="M795.7,535.0l5.4,10.9" stroke="#adadad" stroke-width="2.3"/><path d="M655.0,503.8l4.8,9.6" stroke="#4b4b4b" stroke-width="2.3"/><path d="M788.6,591.5l2.4,4.7" stroke="#c5c5c5" stroke-width="2.3"/><path d="M663.4,522.9l3.4,6.8" stroke="#414141" stroke-width="2.3"/><path d="M638.6,573.9l3.0,6.1" stroke="#969696" stroke-width="2.3"/><path d="M611.7,536.3l2.5,4.9" stroke="#c5c5c5" stroke-width="2.3"/><path d="M698.8,402.7l3.4,6.9" stroke="#a0a0a0" stroke-width="2.3"/><path d="M642.1,592.4l5.7,11.4" stroke="#999999" stroke-width="2.3"/><path d="M670.6,657.6l5.1,10.2" stroke="#a3a3a3" stroke-width="2.2"/><path d="M925.6,1078.7l2.5,6.9" stroke="#5c5c5c" stroke-width="2.2"/><path d="M832.6,764.4l5.3,12.7" stroke="#999999" stroke-width="2.2"/><path d="M705.6,654.1l4.4,8.9" stroke="#929292" stroke-width="2.2"/><path d="M805.1,818.0l3.9,9.2" stroke="#929292" stroke-width="2.2"/><path d="M912.8,842.1l2.9,6.9" stroke="#474747" stroke-width="2.2"/><path d="M911.6,1126.6l4.6,12.7" stroke="#999999" stroke-width="2.2"/><path d="M988.2,1017.9l4.2,11.7" stroke="#474747" stroke-width="2.2"/><path d="M953.4,922.4l4.5,12.5" stroke="#929292" stroke-width="2.2"/><path d="M1070.5,1185.6l3.8,10.5" stroke="#5c5c5c" stroke-width="2.2"/><path d="M747.1,826.2l3.3,7.9" stroke="#585858" stroke-width="2.2"/><path d="M1036.7,1102.8l3.3,9.3" stroke="#585858" stroke-width="2.2"/><path d="M793.9,918.2l2.6,7.3" stroke="#a3a3a3" stroke-width="2.2"/><path d="M859.5,677.6l2.4,4.8" stroke="#555555" stroke-width="2.2"/><path d="M831.5,925.9l4.5,12.5" stroke="#999999" stroke-width="2.2"/><path d="M825.8,896.1l3.3,7.9" stroke="#a3a3a3" stroke-width="2.2"/><path d="M847.7,1126.0l2.3,6.5" stroke="#555555" stroke-width="2.2"/><path d="M886.3,838.2l2.5,5.9" stroke="#999999" stroke-width="2.2"/><path d="M1039.2,1156.8l3.0,8.5" stroke="#5c5c5c" stroke-width="2.2"/><path d="M841.9,1244.4l3.2,8.8" stroke="#555555" stroke-width="2.2"/><path d="M866.3,974.9l4.3,12.0" stroke="#555555" stroke-width="2.2"/><path d="M690.2,713.2l2.3,5.5" stroke="#474747" stroke-width="2.2"/><path d="M1018.2,1072.9l4.6,12.8" stroke="#4e4e4e" stroke-width="2.2"/><path d="M896.3,1009.4l2.4,6.7" stroke="#a3a3a3" stroke-width="2.2"/><path d="M855.5,726.8l4.2,10.1" stroke="#585858" stroke-width="2.2"/><path d="M962.7,940.3l2.3,6.3" stroke="#929292" stroke-width="2.2"/><path d="M817.9,675.5l2.4,4.8" stroke="#474747" stroke-width="2.2"/><path d="M855.9,1165.9l3.5,9.8" stroke="#999999" stroke-width="2.2"/><path d="M914.2,1016.0l2.1,5.9" stroke="#4e4e4e" stroke-width="2.2"/><path d="M751.1,834.9l4.5,10.7" stroke="#555555" stroke-width="2.2"/><path d="M831.6,710.1l4.4,10.5" stroke="#4e4e4e" stroke-width="2.2"/><path d="M848.9,662.2l3.4,6.9" stroke="#555555" stroke-width="2.2"/><path d="M1034.1,1047.5l1.8,4.9" stroke="#555555" stroke-width="2.2"/><path d="M767.3,683.8l3.4,6.9" stroke="#929292" stroke-width="2.2"/><path d="M956.6,1050.8l4.3,11.9" stroke="#5c5c5c" stroke-width="2.2"/><path d="M851.9,829.2l4.7,11.1" stroke="#474747" stroke-width="2.2"/><path d="M915.8,821.4l4.9,11.7" stroke="#999999" stroke-width="2.2"/><path d="M718.6,770.5l2.2,5.4" stroke="#474747" stroke-width="2.2"/><path d="M959.8,1195.1l4.4,12.2" stroke="#999999" stroke-width="2.2"/><path d="M836.8,894.5l3.0,7.2" stroke="#474747" stroke-width="2.2"/><path d="M882.9,731.3l3.1,7.3" stroke="#999999" stroke-width="2.2"/><path d="M991.3,1142.4l2.2,6.0" stroke="#474747" stroke-width="2.2"/><path d="M1022.2,1178.8l3.7,10.4" stroke="#555555" stroke-width="2.2"/><path d="M735.2,755.4l2.3,5.4" stroke="#a3a3a3" stroke-width="2.2"/><path d="M1013.3,1006.0l4.5,12.4" stroke="#555555" stroke-width="2.2"/><path d="M820.6,985.0l2.5,7.1" stroke="#474747" stroke-width="2.2"/><path d="M848.5,1218.8l3.9,10.9" stroke="#474747" stroke-width="2.2"/><path d="M867.8,650.4l5.8,11.6" stroke="#555555" stroke-width="2.2"/><path d="M776.9,694.4l4.2,8.5" stroke="#929292" stroke-width="2.2"/><path d="M778.7,763.9l3.2,7.5" stroke="#a3a3a3" stroke-width="2.2"/><path d="M879.1,974.6l2.3,6.3" stroke="#4e4e4e" stroke-width="2.2"/><path d="M826.0,735.5l4.9,11.7" stroke="#4e4e4e" stroke-width="2.2"/><path d="M888.9,1126.7l2.3,6.4" stroke="#4e4e4e" stroke-width="2.2"/><path d="M880.5,1191.1l3.4,9.6" stroke="#585858" stroke-width="2.2"/><path d="M936.9,917.6l3.5,9.6" stroke="#555555" stroke-width="2.2"/><path d="M848.1,1212.2l3.1,8.7" stroke="#474747" stroke-width="2.2"/><path d="M861.5,1033.6l3.5,9.6" stroke="#4e4e4e" stroke-width="2.2"/><path d="M969.5,1253.9l3.6,9.9" stroke="#5c5c5c" stroke-width="2.2"/><path d="M1043.7,1157.0l4.6,12.9" stroke="#474747" stroke-width="2.2"/><path d="M805.0,952.1l2.6,7.2" stroke="#5c5c5c" stroke-width="2.2"/><path d="M761.7,718.9l2.1,4.9" stroke="#555555" stroke-width="2.2"/><path d="M883.9,1077.4l3.7,10.2" stroke="#474747" stroke-width="2.2"/><path d="M824.0,1147.9l4.5,12.6" stroke="#929292" stroke-width="2.2"/><path d="M1026.9,1130.7l4.6,12.8" stroke="#555555" stroke-width="2.2"/><path d="M998.2,1110.4l4.5,12.6" stroke="#929292" stroke-width="2.2"/><path d="M1038.4,1141.5l2.2,6.2" stroke="#999999" stroke-width="2.2"/><path d="M883.8,933.8l3.3,9.1" stroke="#a3a3a3" stroke-width="2.2"/><path d="M937.5,794.3l2.1,4.9" stroke="#474747" stroke-width="2.2"/><path d="M839.7,990.7l1.8,5.0" stroke="#5c5c5c" stroke-width="2.2"/><path d="M982.9,1114.7l3.5,9.8" stroke="#4e4e4e" stroke-width="2.2"/><path d="M966.3,947.0l2.0,5.5" stroke="#a3a3a3" stroke-width="2.2"/><path d="M876.9,1024.1l4.6,12.8" stroke="#5c5c5c" stroke-width="2.2"/><path d="M972.8,1191.8l2.2,6.0" stroke="#585858" stroke-width="2.2"/><path d="M870.3,704.1l2.3,5.6" stroke="#474747" stroke-width="2.2"/><path d="M874.3,821.3l4.7,11.1" stroke="#4e4e4e" stroke-width="2.2"/><path d="M873.0,940.3l2.5,6.8" stroke="#555555" stroke-width="2.2"/><path d="M850.5,1105.8l2.2,6.2" stroke="#474747" stroke-width="2.2"/><path d="M818.7,933.9l3.6,10.0" stroke="#999999" stroke-width="2.2"/><path d="M889.5,1130.9l2.9,8.1" stroke="#929292" stroke-width="2.2"/><path d="M833.5,1127.0l3.0,8.4" stroke="#474747" stroke-width="2.2"/><path d="M855.0,1066.8l2.9,8.2" stroke="#474747" stroke-width="2.2"/><path d="M928.7,847.9l3.7,8.8" stroke="#a3a3a3" stroke-width="2.2"/><path d="M674.4,653.1l5.6,11.3" stroke="#474747" stroke-width="2.2"/><path d="M828.8,1045.7l3.9,10.8" stroke="#999999" stroke-width="2.2"/><path d="M959.7,1032.8l1.7,4.8" stroke="#a3a3a3" stroke-width="2.2"/><path d="M862.0,1202.3l3.4,9.5" stroke="#585858" stroke-width="2.2"/><path d="M766.1,769.2l3.6,8.5" stroke="#4e4e4e" stroke-width="2.2"/><path d="M890.1,1019.1l3.7,10.4" stroke="#585858" stroke-width="2.2"/><path d="M852.0,884.3l3.9,9.2" stroke="#5c5c5c" stroke-width="2.2"/><path d="M947.5,1137.0l4.1,11.4" stroke="#a3a3a3" stroke-width="2.2"/><path d="M961.6,878.4l4.4,10.4" stroke="#555555" stroke-width="2.2"/><path d="M734.6,779.7l3.1,7.4" stroke="#4e4e4e" stroke-width="2.2"/><path d="M895.2,992.4l2.2,6.0" stroke="#999999" stroke-width="2.2"/><path d="M868.1,1235.2l2.1,5.9" stroke="#474747" stroke-width="2.2"/><path d="M820.3,681.1l2.9,5.8" stroke="#555555" stroke-width="2.2"/><path d="M903.1,833.1l2.2,5.2" stroke="#a3a3a3" stroke-width="2.2"/><path d="M996.2,1000.0l4.5,12.4" stroke="#555555" stroke-width="2.2"/><path d="M901.0,1144.6l2.4,6.7" stroke="#4e4e4e" stroke-width="2.2"/><path d="M868.6,958.3l2.0,5.5" stroke="#474747" stroke-width="2.2"/><path d="M881.1,1030.2l3.1,8.7" stroke="#a3a3a3" stroke-width="2.2"/><path d="M942.3,1203.4l2.0,5.6" stroke="#929292" stroke-width="2.2"/><path d="M1016.5,1174.2l4.0,11.0" stroke="#474747" stroke-width="2.2"/><path d="M754.2,878.0l5.1,12.2" stroke="#555555" stroke-width="2.2"/><path d="M850.8,1249.0l1.7,4.8" stroke="#474747" stroke-width="2.2"/><path d="M846.6,1059.3l2.5,7.0" stroke="#a3a3a3" stroke-width="2.2"/><path d="M801.4,684.9l4.4,8.8" stroke="#585858" stroke-width="2.2"/><path d="M764.0,901.1l1.7,4.8" stroke="#5c5c5c" stroke-width="2.2"/><path d="M805.6,1003.3l3.2,8.9" stroke="#474747" stroke-width="2.2"/><path d="M817.9,731.7l4.1,9.8" stroke="#929292" stroke-width="2.2"/><path d="M922.2,1025.9l4.5,12.4" stroke="#474747" stroke-width="2.2"/><path d="M959.9,1197.0l1.9,5.1" stroke="#a3a3a3" stroke-width="2.2"/><path d="M855.5,935.8l2.3,6.3" stroke="#929292" stroke-width="2.2"/><path d="M817.6,711.6l3.0,7.2" stroke="#929292" stroke-width="2.2"/><path d="M936.4,1012.8l3.6,10.0" stroke="#4e4e4e" stroke-width="2.2"/><path d="M699.1,688.5l4.6,9.1" stroke="#929292" stroke-width="2.2"/><path d="M992.2,1192.0l4.6,12.9" stroke="#929292" stroke-width="2.2"/><path d="M815.7,867.7l3.7,8.9" stroke="#4e4e4e" stroke-width="2.2"/><path d="M817.7,1108.9l4.7,13.1" stroke="#999999" stroke-width="2.2"/><path d="M977.7,1227.7l2.4,6.8" stroke="#585858" stroke-width="2.2"/><path d="M996.9,1180.1l4.5,12.6" stroke="#585858" stroke-width="2.2"/><path d="M861.0,1243.2l2.9,8.1" stroke="#474747" stroke-width="2.2"/><path d="M928.5,973.6l2.5,7.0" stroke="#929292" stroke-width="2.2"/><path d="M930.1,1252.9l2.9,8.1" stroke="#5c5c5c" stroke-width="2.2"/><path d="M917.2,923.9l4.6,12.8" stroke="#555555" stroke-width="2.2"/><path d="M1043.3,1109.2l4.7,13.0" stroke="#474747" stroke-width="2.2"/><path d="M931.2,798.7l3.4,8.2" stroke="#999999" stroke-width="2.2"/><path d="M827.7,853.1l2.3,5.5" stroke="#5c5c5c" stroke-width="2.2"/><path d="M970.2,1111.4l3.0,8.4" stroke="#555555" stroke-width="2.2"/><path d="M867.4,757.1l4.5,10.6" stroke="#929292" stroke-width="2.2"/><path d="M751.2,726.5l2.1,4.9" stroke="#585858" stroke-width="2.2"/><path d="M985.0,959.3l4.7,13.1" stroke="#343434" stroke-width="2.3"/><path d="M973.5,956.7l2.0,5.7" stroke="#3d3d3d" stroke-width="2.3"/><path d="M1030.4,1086.1l4.5,12.6" stroke="#3b3b3b" stroke-width="2.3"/><path d="M1041.0,1079.8l4.2,11.6" stroke="#4e4e4e" stroke-width="2.3"/><path d="M965.8,897.5l3.6,8.6" stroke="#515151" stroke-width="2.3"/><path d="M961.0,899.3l6.2,14.7" stroke="#363636" stroke-width="2.3"/><path d="M1070.4,1147.5l3.9,10.8" stroke="#424242" stroke-width="2.3"/><path d="M1032.3,1071.4l3.6,10.1" stroke="#505050" stroke-width="2.3"/><path d="M950.7,925.5l2.4,6.5" stroke="#393939" stroke-width="2.3"/><path d="M972.3,942.7l3.1,8.6" stroke="#434343" stroke-width="2.3"/><path d="M964.6,896.7l2.3,5.6" stroke="#373737" stroke-width="2.3"/><path d="M1018.2,1064.3l3.6,10.0" stroke="#343434" stroke-width="2.3"/><path d="M1048.3,1092.4l4.4,12.2" stroke="#414141" stroke-width="2.3"/><path d="M1060.5,1124.3l3.2,9.0" stroke="#343434" stroke-width="2.3"/><path d="M1045.7,1142.5l3.2,8.8" stroke="#383838" stroke-width="2.3"/><path d="M1051.7,1129.5l2.5,6.8" stroke="#434343" stroke-width="2.3"/><path d="M975.5,981.8l2.2,6.2" stroke="#4d4d4d" stroke-width="2.3"/><path d="M1063.9,1128.9l4.3,12.0" stroke="#4c4c4c" stroke-width="2.3"/><path d="M1015.9,1092.2l3.6,10.0" stroke="#494949" stroke-width="2.3"/><path d="M1015.4,1044.4l2.5,6.9" stroke="#454545" stroke-width="2.3"/><path d="M1013.0,1027.5l4.5,12.5" stroke="#515151" stroke-width="2.3"/><path d="M1009.7,1022.5l3.8,10.4" stroke="#4c4c4c" stroke-width="2.3"/><path d="M968.6,964.5l4.3,11.9" stroke="#4b4b4b" stroke-width="2.3"/><path d="M1032.0,1046.7l4.2,11.7" stroke="#505050" stroke-width="2.3"/><path d="M1007.3,1067.1l2.5,7.0" stroke="#424242" stroke-width="2.3"/><path d="M1008.2,1081.0l2.3,6.4" stroke="#3a3a3a" stroke-width="2.3"/><path d="M985.9,946.9l4.2,11.7" stroke="#414141" stroke-width="2.3"/><path d="M1041.7,1138.5l4.4,12.2" stroke="#525252" stroke-width="2.3"/><path d="M1062.2,1121.0l3.5,9.6" stroke="#494949" stroke-width="2.3"/><path d="M1010.7,1082.6l2.7,7.6" stroke="#444444" stroke-width="2.3"/><path d="M1059.8,1131.9l2.2,6.0" stroke="#414141" stroke-width="2.3"/><path d="M988.2,928.9l3.4,9.4" stroke="#494949" stroke-width="2.3"/><path d="M1004.2,1060.4l3.0,8.3" stroke="#3c3c3c" stroke-width="2.3"/><path d="M1065.6,1132.9l4.0,11.2" stroke="#383838" stroke-width="2.3"/><path d="M1047.5,1092.4l4.9,13.5" stroke="#3d3d3d" stroke-width="2.3"/><path d="M1044.4,1140.8l4.6,12.9" stroke="#3a3a3a" stroke-width="2.3"/><path d="M1015.5,1068.1l3.4,9.4" stroke="#464646" stroke-width="2.3"/><path d="M993.2,1030.3l5.4,15.0" stroke="#4f4f4f" stroke-width="2.3"/><path d="M1020.2,1019.6l4.2,11.6" stroke="#545454" stroke-width="2.3"/><path d="M988.3,940.1l2.7,7.4" stroke="#363636" stroke-width="2.3"/><path d="M1017.5,1023.4l5.0,14.0" stroke="#515151" stroke-width="2.3"/><path d="M1042.1,1123.9l3.6,9.9" stroke="#4a4a4a" stroke-width="2.3"/><path d="M780.4,730.8l2.5,6.0" stroke="#464646" stroke-width="2.3"/><path d="M784.2,709.3l3.0,7.0" stroke="#424242" stroke-width="2.3"/><path d="M813.0,674.3l5.5,11.1" stroke="#3e3e3e" stroke-width="2.3"/><path d="M780.2,759.1l3.3,7.7" stroke="#474747" stroke-width="2.3"/><path d="M788.7,697.4l6.4,12.8" stroke="#3c3c3c" stroke-width="2.3"/><path d="M804.1,713.2l4.2,9.9" stroke="#474747" stroke-width="2.3"/><path d="M803.8,687.8l2.9,5.7" stroke="#3e3e3e" stroke-width="2.3"/><path d="M799.4,716.3l4.8,11.4" stroke="#404040" stroke-width="2.3"/><path d="M785.0,709.9l3.0,7.2" stroke="#3e3e3e" stroke-width="2.3"/><path d="M789.5,749.7l5.0,12.0" stroke="#3d3d3d" stroke-width="2.3"/><path d="M794.4,697.6l6.0,12.1" stroke="#4b4b4b" stroke-width="2.3"/><path d="M774.6,714.9l5.1,12.1" stroke="#3a3a3a" stroke-width="2.3"/><path d="M796.6,703.0l2.5,6.0" stroke="#555555" stroke-width="2.3"/><path d="M803.3,713.4l2.5,5.9" stroke="#333333" stroke-width="2.3"/><path d="M825.7,751.9l5.3,12.5" stroke="#545454" stroke-width="2.3"/><path d="M811.5,756.1l3.6,8.6" stroke="#414141" stroke-width="2.3"/><path d="M817.3,772.4l4.6,11.0" stroke="#515151" stroke-width="2.3"/><path d="M805.1,799.9l5.0,11.9" stroke="#3c3c3c" stroke-width="2.3"/><path d="M830.1,792.9l4.4,10.5" stroke="#474747" stroke-width="2.3"/><path d="M830.2,813.5l3.4,8.2" stroke="#404040" stroke-width="2.3"/><path d="M833.7,807.5l3.2,7.6" stroke="#3a3a3a" stroke-width="2.3"/><path d="M829.4,772.9l5.1,12.2" stroke="#353535" stroke-width="2.3"/><path d="M810.0,784.2l4.8,11.4" stroke="#434343" stroke-width="2.3"/><path d="M828.3,809.3l5.4,12.9" stroke="#3d3d3d" stroke-width="2.3"/><path d="M811.9,803.0l3.5,8.4" stroke="#494949" stroke-width="2.3"/><path d="M818.3,791.5l4.0,9.5" stroke="#353535" stroke-width="2.3"/><path d="M831.4,796.2l3.5,8.4" stroke="#4e4e4e" stroke-width="2.3"/><path d="M830.8,791.7l4.4,10.5" stroke="#464646" stroke-width="2.3"/><path d="M814.4,765.3l5.7,13.5" stroke="#3b3b3b" stroke-width="2.3"/><path d="M819.4,784.7l5.0,11.9" stroke="#464646" stroke-width="2.3"/><path d="M827.4,782.7l4.2,10.0" stroke="#3c3c3c" stroke-width="2.3"/><path d="M804.9,809.3l3.1,7.4" stroke="#383838" stroke-width="2.3"/><path d="M817.1,795.0l5.0,11.9" stroke="#4b4b4b" stroke-width="2.3"/><path d="M821.6,826.9l3.1,7.5" stroke="#353535" stroke-width="2.3"/><path d="M828.7,810.3l5.0,11.9" stroke="#4b4b4b" stroke-width="2.3"/><path d="M827.8,803.6l5.2,12.3" stroke="#494949" stroke-width="2.3"/><path d="M770.6,627.4l5.9,11.8" stroke="#393939" stroke-width="2.3"/><path d="M780.1,644.8l5.3,10.6" stroke="#494949" stroke-width="2.3"/><path d="M764.3,641.2l5.0,9.9" stroke="#434343" stroke-width="2.3"/><path d="M777.0,640.1l4.2,8.5" stroke="#4c4c4c" stroke-width="2.3"/><path d="M794.5,629.8l5.0,9.9" stroke="#3f3f3f" stroke-width="2.3"/><path d="M780.1,609.2l6.5,13.1" stroke="#3c3c3c" stroke-width="2.3"/><path d="M782.1,639.6l5.3,10.6" stroke="#3b3b3b" stroke-width="2.3"/><path d="M774.4,634.2l5.5,10.9" stroke="#525252" stroke-width="2.3"/><path d="M842.0,675.6l6.6,13.3" stroke="#505050" stroke-width="2.3"/><path d="M856.2,688.9l6.5,13.0" stroke="#3a3a3a" stroke-width="2.3"/><path d="M841.6,705.8l4.0,9.5" stroke="#393939" stroke-width="2.3"/><path d="M854.0,666.3l4.1,8.1" stroke="#3c3c3c" stroke-width="2.3"/><path d="M844.0,701.3l3.3,7.8" stroke="#3e3e3e" stroke-width="2.3"/><path d="M839.1,682.6l4.9,9.9" stroke="#4f4f4f" stroke-width="2.3"/><path d="M840.7,721.1l3.2,7.7" stroke="#515151" stroke-width="2.3"/><path d="M831.4,689.9l6.4,12.8" stroke="#444444" stroke-width="2.3"/><path d="M995.7,1159.5l2.4,6.6" stroke="#3e3e3e" stroke-width="2.3"/><path d="M1017.9,1156.6l4.8,13.2" stroke="#505050" stroke-width="2.3"/><path d="M991.6,1152.3l2.9,8.1" stroke="#383838" stroke-width="2.3"/><path d="M998.2,1168.4l3.6,9.9" stroke="#393939" stroke-width="2.3"/><path d="M989.6,1146.0l2.5,6.8" stroke="#474747" stroke-width="2.3"/><path d="M1012.5,1129.4l3.7,10.2" stroke="#3b3b3b" stroke-width="2.3"/><path d="M998.6,1134.1l4.6,12.8" stroke="#3c3c3c" stroke-width="2.3"/><path d="M1005.4,1185.8l2.7,7.4" stroke="#3c3c3c" stroke-width="2.3"/><path d="M997.1,1129.6l3.2,9.0" stroke="#525252" stroke-width="2.3"/><path d="M1018.8,1099.5l3.7,10.4" stroke="#404040" stroke-width="2.3"/><path d="M967.2,1112.9l5.0,13.8" stroke="#3c3c3c" stroke-width="2.3"/><path d="M982.3,1090.7l2.9,8.0" stroke="#4e4e4e" stroke-width="2.3"/><path d="M969.3,1088.2l3.6,10.0" stroke="#383838" stroke-width="2.3"/><path d="M952.7,1131.0l4.8,13.3" stroke="#3e3e3e" stroke-width="2.3"/><path d="M973.7,1120.7l4.2,11.7" stroke="#474747" stroke-width="2.3"/><path d="M969.5,1136.3l2.3,6.3" stroke="#3b3b3b" stroke-width="2.3"/><path d="M966.5,1135.0l2.5,7.0" stroke="#4b4b4b" stroke-width="2.3"/></g>
<path d="M722,556 L727.5,568.8 L741.9,601.3 L823.8,789.4 L855,866.3 L888.9,968.9 L926.7,1084.4 L962.2,1206.7 L970,1235" fill="none" stroke="#9e9e9e" stroke-width="2.3"/>
</g></g></g>
<g stroke="#fff" fill="none" stroke-linecap="butt">
<path d="M632.5,449 L751,381.6" stroke-width="4.4"/>
<path d="M603.5,492.9 L765,406.2" stroke-width="4.4"/>
<path d="M632.6,432 L633.4,520 L635.1,609" stroke-width="2.4"/>
</g>
<path d="M630.5,437.5l-3,4M626,443l-4,5.5M618.5,459l-3,5M613,470.5l-2.5,5M607.5,481l-2,4M602,496.5l-2.5,5.5M597.5,506l-2,4M593,514l-2.5,5M589.5,522l-1.5,4" stroke="#808080" stroke-width="3.2" fill="none"/>
<path d="M996.5,1169.5h4.5v2h1.5v3.5h-4v-2h-2z" fill="#b80000"/><rect x="1002.5" y="1174" width="3" height="3.5" fill="#ff9a00"/>
<path d="M546.9,289.8 L544.8,299.2 L535.4,302.3 L533.3,308.5 L527.1,311.7 L531.2,319.0 L531.2,324.6 L536.5,319.0 L544.8,314.8 L551.0,313.1 L561.5,314.2 L571.9,324.6 L562.5,334.6 L556.2,340.8 L551.0,338.8 L550.0,335.6 L541.7,338.8 L546.9,345.0 L554.2,347.1 L562.5,355.4 L572.9,359.6 L571.9,366.9 L564.6,369.0 L561.5,376.2 L559.4,386.7 L550.0,399.2 L544.8,403.3 L542.7,408.5 L531.2,406.5 L525.0,410.0 L513.5,408.5 M641.7,289.8 L644.8,299.2 L647.9,305.4 L635.4,310.6 L630.2,319.0 L633.3,323.1 L627.1,324.6 L626.0,317.9 L616.7,314.8 L612.5,311.7 L603.1,307.5 L597.9,303.3 L592.7,304.4 L594.8,319.0 L585.4,321.0 L581.2,326.2 L592.7,337.7 L606.2,336.7 L604.2,328.3 L608.3,330.4 L609.4,337.7 L620.8,348.1 L637.5,363.8 L652.1,372.1 L660.4,372.1 L674.0,377.3 L676.0,369.0 L674.0,363.8 L680.2,360.6 L685.4,372.1 L693.8,373.1 L703.1,378.3 L715.6,379.4 L719.8,384.6 L715.6,392.9 L717.7,400.2 L724.0,404.4 L736.5,408.5 L741.7,415.8 L743.8,430.4 L750.0,438.8 L758.3,449.2 L765.6,455.4 L772.9,454.4 L778.1,445.0 L781.2,449.2 L787.5,450.2 L791.7,457.5 L799.0,460.6 L800.0,465.8 L810.4,462.7 L810.4,473.1 L807.3,480.4 L799.0,482.5 L795.8,488.8 L793.8,497.1 L799.0,507.5 L806.2,505.4 L810.4,511.7 L810.4,517.9 L814.6,523.1 L812.5,532.5 L819.8,536.7 L815.6,542.9 L814.6,553.3 L803.1,547.1 L791.7,548.1 L786.5,554.4 L785.4,561.7 L788.5,570.0 M622.9,388.8 L629.2,383.5 L637.5,382.5 L639.2,386.7 L633.3,391.9 L627.1,391.9Z M721.9,457.9 L728.1,455.6 L732.7,459.8 L735.0,467.7 L731.7,470.6 L727.1,465.4Z M753.3,457.5 L756.9,451.7 L760.2,455.2 L764.8,462.1 L759.2,463.8 L754.6,462.1Z M734.0,470.6 L740.8,467.1 L745.4,471.7 L753.3,475.8 L757.9,476.9 L757.3,486.0 L752.3,490.6 L746.5,491.9 L740.8,487.3 L736.2,478.1Z M722.9,290.8 L731.2,291.9 L733.3,289.8 M755.2,291.9 L772.9,293.3 L782.3,289.8 M816.7,289.8 L824.0,292.5 L832.3,290.8 L850.0,305.4 L868.8,314.2 L900.0,308.5 M900.0,308.5 L944.8,305.4 L936.5,295.0 L939.6,289.8 M1172.9,289.2 L1195.8,297.1 L1208.3,298.8 L1213.5,308.5 L1222.9,310.6 L1229.2,301.2 L1226.0,292.9 M513.5,603.3 L527.1,608.5 L525.0,614.8 L534.4,614.8 L539.6,624.2 L544.8,625.2 L552.1,632.5 L556.2,642.9 L556.7,655.4 L553.1,661.7 L542.7,661.7 L537.5,656.5 L536.5,661.7 L527.1,659.6 L513.5,661.7 M527.1,608.5 L520.8,617.9 L515.6,623.1 L519.8,628.3 L517.7,633.5 L513.5,632.5 M513.5,672.1 L520.8,670.0 L521.9,663.8 L533.3,662.7 L538.5,666.9 L544.8,663.8 L553.1,670.0 L555.2,676.2 L562.5,677.3 L562.5,689.8 L563.5,682.5 L568.8,678.3 L578.1,677.3 L583.3,679.4 L589.6,680.4 L597.9,687.7 L602.1,700.2 L592.7,702.3 L583.3,698.1 L592.7,703.3 L595.8,708.5 L591.7,715.8 L602.1,711.7 L608.3,712.7 L611.5,717.9 L610.4,722.1 L600.0,729.4 L592.7,730.4 L599.0,730.4 L591.7,739.8 L585.4,752.3 L582.3,761.7 L583.3,766.9 L572.9,770.0 L576.0,778.3 L572.9,788.8 L569.8,786.7 L570.8,797.1 L564.6,795.0 L562.5,805.4 L557.3,802.3 L555.2,812.7 L549.0,809.6 L542.7,813.8 L550.0,820.0 L547.9,828.3 L546.9,836.7 L536.5,833.5 L536.5,823.1 L532.3,832.5 L526.0,834.6 L540.6,841.9 L527.1,847.1 L513.5,850.2 M656.2,741.9 L661.5,735.6 L664.6,738.8 L669.8,730.4 L677.1,723.1 L687.5,724.6 L689.2,731.5 L683.3,735.6 L676.0,734.6 L682.3,741.9 L680.2,751.2 L678.1,758.5 L680.2,764.8 L681.2,771.0 L677.1,773.1 L669.8,767.9 L672.9,761.7 L665.6,758.5 L660.4,751.2Z M669.8,730.4 L672.9,733.5 L676.0,734.6 M684.4,751.2 L688.5,747.1 L694.8,753.3 L691.7,758.5 L686.5,757.5Z M739.6,606.5 L747.9,599.2 L758.3,595.0 L768.8,596.0 L764.6,606.5 L759.4,610.6 L750.0,614.8Z M760.4,590.8 L766.7,581.5 L771.9,581.5 L778.1,592.9 L768.8,590.8Z M788.5,570.0 L780.2,578.3 L785.4,585.6 L793.8,587.7 L801.0,595.0 L804.2,604.4 L808.3,611.7 L815.6,622.1 L822.9,630.4 L829.2,629.4 L830.2,644.0 L833.3,650.2 L843.8,652.3 L853.1,650.2 L847.9,655.4 L846.9,665.8 L850.0,672.1 L835.4,672.1 L857.3,673.1 L850.0,678.3 L845.8,683.5 L852.1,684.6 L862.5,682.5 L875.0,686.7 L883.3,685.6 L891.7,690.8 L900.0,688.8 M845.8,683.5 L837.5,683.5 L831.2,686.7 L828.1,689.8 L835.4,697.1 L841.7,705.4 L850.0,711.7 L862.5,715.8 L868.8,711.7 L883.3,714.8 L866.7,726.2 L856.2,734.6 L850.0,738.8 L854.2,742.9 L862.5,749.2 L854.2,752.3 L856.2,761.7 L852.1,773.1 L847.9,777.3 L844.8,769.0 L841.7,780.4 L839.6,790.8 L837.5,801.2 L841.7,807.5 L841.7,814.8 L835.4,815.8 L829.2,809.6 L827.1,804.4 L814.6,807.5 L821.9,812.7 L825.0,817.9 L831.2,820.0 L835.4,828.3 L827.1,830.4 L825.0,840.8 L827.1,851.2 L833.3,853.3 L834.4,859.6 L825.0,860.6 L818.8,865.8 L820.8,870.0 M843.8,684.6 L854.2,690.8 L866.7,690.8 L881.2,690.8 L895.8,695.0 L900.0,699.2 M780.2,677.3 L788.5,677.3 L790.6,688.8 L793.8,703.3 L797.9,717.9 L806.2,732.5 L814.6,740.8 L822.9,745.0 L833.3,744.0 L827.1,755.4 L822.9,757.5 L810.4,757.5 L800.0,745.0 L790.6,728.3 L783.3,715.8 L781.2,699.2Z M708.3,870.0 L716.7,845.0 L725.0,840.8 L729.2,829.4 L741.7,820.0 L756.2,822.1 L760.4,828.3 L762.5,831.5 L763.5,827.3 L772.9,828.3 L785.4,823.1 L806.2,824.2 L816.7,828.3 L821.9,835.6 L820.8,845.0 L812.5,850.2 L791.7,856.5 L800.0,859.6 L810.4,870.0 M900.0,689.8 L908.3,696.0 L908.3,701.2 L913.5,706.5 L908.3,711.7 L900.0,699.2 M513.5,884.6 L524.0,885.6 L528.1,896.0 L537.5,892.9 L543.8,898.1 L553.1,895.0 L560.4,898.1 L558.3,906.5 L561.5,914.8 L552.1,922.1 L529.2,927.3 L513.5,915.8 M513.5,897.1 L518.8,899.2 L516.7,903.3 L513.5,901.2 M576.0,1049.6 L582.3,1049.6 L589.6,1059.6 L585.4,1067.9 L585.4,1076.2 L577.1,1087.7 L561.5,1094.0 L550.0,1089.8 L559.4,1076.2 L557.3,1063.8Z M599.0,1006.5 L613.5,1007.1 L605.2,1020.0 L619.8,1019.6 L616.7,1031.5 L610.4,1041.9 L617.7,1042.5 L625.0,1059.6 L630.2,1062.7 L637.5,1082.5 L646.9,1085.6 L645.8,1095.0 L641.7,1098.1 L645.8,1105.4 L637.5,1111.7 L626.0,1111.7 L611.5,1114.8 L607.3,1112.7 L602.1,1117.9 L592.7,1115.8 L586.5,1121.0 L582.3,1117.9 L597.9,1103.3 L604.2,1102.3 L591.7,1099.2 L589.6,1094.0 L597.9,1090.8 L593.8,1082.5 L596.9,1073.1 L608.3,1075.2 L610.0,1067.9 L605.2,1059.6 L595.8,1055.4 L594.8,1049.2 L597.9,1047.1 L595.8,1042.9 L591.7,1049.2 L591.7,1036.7 L588.5,1029.4 L593.8,1013.8Z M708.3,870.0 L702.1,882.5 L696.9,907.5 L690.6,926.2 L681.2,941.9 L668.8,953.3 L663.5,962.7 L666.7,982.5 L670.8,1003.3 L681.2,1011.7 L689.6,1007.5 L701.0,989.8 L708.3,998.1 L718.8,1017.9 L726.0,1030.4 L729.2,1039.8 L737.5,1037.7 L739.6,1025.2 L750.0,1024.2 L751.0,1009.6 L745.8,989.8 L752.5,983.5 L753.1,967.9 L742.7,961.7 L737.5,955.4 L736.5,937.7 L741.7,927.3 L747.9,911.7 L744.8,905.4 L744.8,895.0 L753.1,886.7 L761.5,889.2 L764.6,895.0 L758.3,911.7 L755.2,924.2 L755.2,932.5 L761.5,942.9 L764.6,954.4 L772.9,957.5 L778.1,961.7 L787.5,953.3 L797.9,944.0 L806.2,939.8 L814.6,941.9 L811.5,952.3 L805.2,955.4 L797.9,955.8 L789.6,961.7 L785.4,970.0 L788.5,976.2 L795.8,975.2 L801.0,994.0 L795.8,995.0 L787.5,988.8 L782.3,997.1 L783.3,1007.5 L790.6,1023.1 L783.3,1030.4 L783.3,1036.7 L776.0,1038.8 L774.0,1035.6 L766.7,1035.6 L757.3,1044.0 L743.8,1057.5 L729.2,1052.3 L718.8,1058.5 L717.7,1055.0 L709.4,1053.3 L705.2,1041.9 L708.3,1030.4 L712.5,1029.4 L706.2,1023.1 L707.3,1012.7 L701.0,1020.0 L693.8,1023.1 L691.7,1031.5 L693.8,1045.0 L697.9,1050.2 L702.1,1063.8 L697.9,1070.0 L695.8,1066.9 L689.6,1067.9 L688.5,1071.0 L681.2,1072.1 L670.8,1078.3 L666.7,1099.2 L662.5,1101.2 L646.9,1108.5 M713.5,1036.7 L724.0,1031.5 L728.1,1038.8 L726.0,1048.1Z M808.3,870.0 L814.6,875.2 L828.1,874.2 L825.0,870.0 M922.9,1086.7 L928.1,1088.8 L940.6,1084.6 L943.8,1088.8 L938.5,1098.1 L949.0,1096.0 L952.1,1102.3 L959.4,1101.2 L964.6,1090.8 L969.8,1082.5 L976.0,1076.2 L997.9,1073.1 L1022.9,1074.2 L1035.4,1073.1 L1043.8,1078.3 L1046.9,1086.7 L1041.7,1099.2 L1025.0,1112.7 L1004.2,1117.9 L983.3,1125.2 L970.8,1133.5 L963.5,1142.9 L960.4,1155.4 L945.8,1161.7 L931.2,1166.9 L922.9,1164.8 L915.6,1155.4 L916.7,1138.8 L911.5,1122.1 L915.6,1117.9 L916.7,1095.0Z M977.1,1038.8 L974.0,1047.1 L970.8,1054.4 L978.1,1054.4 L978.1,1070.0 L971.9,1073.1 L966.7,1078.3 L960.4,1080.4 L953.1,1073.1 L956.2,1065.8 L964.6,1057.5 L971.9,1045.0Z M1178.1,1017.9 L1167.7,1007.5 L1158.3,1011.7 L1152.1,1003.3 L1147.9,1009.6 L1135.4,997.1 L1122.9,994.0 L1118.8,986.7 L1114.6,985.6 L1102.1,992.9 L1088.5,988.8 L1083.3,990.8 L1079.2,987.7 L1085.4,981.5 L1079.2,973.1 L1082.3,965.8 L1089.6,960.6 L1079.2,950.2 L1071.9,947.1 L1066.7,954.4 L1058.3,959.6 L1055.2,972.1 L1052.1,980.4 L1055.2,989.8 L1051.0,998.1 L1054.2,1014.8 L1070.8,1017.9 L1077.1,1025.2 L1097.9,1028.3 L1118.8,1030.4 L1122.9,1027.3 L1128.1,1027.3 L1122.9,1035.6 L1133.3,1047.1 L1133.3,1054.4 L1143.8,1060.6 M1129.2,981.5 L1138.5,983.5 L1150.0,982.5 L1147.9,994.0 L1137.5,998.1 L1128.1,990.8Z M646.9,1109.4 L645.8,1119.8 L624.0,1131.2 L615.6,1125.0 L619.8,1140.6 L604.2,1136.5 L591.7,1139.2 L591.7,1149.0 L605.2,1155.2 L612.5,1162.5 L621.9,1178.1 L619.8,1206.2 L613.5,1213.5 L588.5,1212.5 L577.1,1209.4 L562.5,1208.3 L551.0,1203.5 L534.4,1211.9 L538.5,1218.8 L535.4,1233.3 L537.5,1241.7 L531.2,1259.4 L525.0,1263.5 L522.9,1272.9 L526.0,1279.2 L530.2,1280.8 L530.2,1285.4 M626.0,1293.8 L629.2,1287.5 L635.4,1282.9 L630.2,1274.0 L634.4,1262.5 L642.7,1253.1 L642.7,1249.0 L655.2,1245.8 L666.7,1235.4 L665.6,1218.8 L680.2,1213.1 L701.0,1214.6 L710.4,1205.2 L714.6,1203.1 L718.8,1196.9 L723.3,1193.8 L737.5,1197.5 L743.8,1209.4 L753.1,1218.8 L763.5,1225.0 L774.0,1230.2 L781.2,1229.2 L788.5,1233.3 L795.8,1234.4 L802.1,1240.6 L806.2,1241.7 L816.7,1254.2 L815.6,1264.6 L797.9,1270.8 L779.2,1275.0 M770.8,1166.7 L761.5,1166.7 L754.6,1172.9 L757.3,1180.2 L756.2,1184.4 L760.4,1189.6 L770.8,1194.8 L779.2,1204.2 L786.5,1209.4 L794.8,1213.5 L802.1,1211.5 L806.2,1213.5 L804.2,1217.7 L822.9,1220.8 L831.2,1225.0 L837.5,1229.2 L836.5,1233.3 L832.3,1230.2 L818.8,1230.8 L816.7,1239.6 L825.0,1240.6 L828.1,1250.0 L824.0,1253.1 L821.9,1264.6 M770.8,1166.7 L767.7,1171.9 L771.9,1178.1 L772.9,1170.8 L780.2,1171.9 L783.3,1178.1 L788.5,1180.2 L790.6,1184.4 L797.9,1189.6 L808.3,1191.7 L818.8,1194.8 L831.2,1197.9 L841.7,1203.1 L843.8,1216.7 L852.1,1225.0 L857.3,1229.2 L868.8,1237.5 L877.1,1243.8 L879.2,1247.9 M731.2,1212.5 L735.4,1225.0 L732.3,1235.4 L727.1,1230.2 L724.0,1222.9 L726.0,1217.7Z M722.9,1243.8 L732.3,1241.7 L734.4,1238.5 L742.7,1246.9 L744.2,1266.7 L737.5,1267.7 L735.0,1272.5 L729.2,1268.8 L727.1,1256.2Z M942.1,1167.9 L936.5,1173.3 L925.0,1177.5 L922.1,1188.5 L912.5,1187.5 L902.1,1191.7 L889.6,1199.0 L899.0,1203.1 L893.8,1209.4 L886.5,1211.5 L881.2,1208.3 L891.7,1222.9 L895.8,1222.9 L892.7,1227.1 L904.2,1230.2 L908.3,1234.4 M943.8,1169.2 L943.8,1176.2 L929.6,1185.4 L926.2,1194.8 L922.9,1205.2 L931.2,1208.3 L931.2,1220.8 L935.4,1222.9" fill="none" stroke="#a9a9a9" stroke-width="4.1" stroke-linejoin="round" stroke-linecap="round"/>
<path d="M569.8,294.0 L575.0,291.5 L585.8,292.9 L586.7,296.7 L579.2,297.5 L572.5,295.8Z M714.6,695.0 L717.7,688.8 L721.9,687.7 L724.0,695.0 L721.9,700.2 L716.7,699.2Z" fill="#a9a9a9" stroke="#a9a9a9" stroke-width="2" stroke-linejoin="round"/>
</g>
<path d="M512.4,288.0 L1226.2,288.0 A678.5,678.5 0 0 1 512.4,1284.4 Z" fill="none" stroke="#000" stroke-width="3.1" stroke-linejoin="miter"/>
<!-- colorbar -->
<rect x="1330.7" y="334.3" width="38.7" height="916.0" fill="url(#jet)"/>
<path d="M1330.7,334.3 L1350.05,288.6 L1369.4,334.3Z" fill="#ff00ff"/>
<path d="M1330.7,1250.3 L1350.05,1295.3 L1369.4,1250.3Z" fill="#808080"/>
<path d="M1330.7,334.3 L1350.05,288.6 L1369.4,334.3 L1369.4,1250.3 L1350.05,1295.3 L1330.7,1250.3Z" fill="none" stroke="#000" stroke-width="3" stroke-linejoin="miter" stroke-miterlimit="10"/>
<path d="M1369.4,334.3h15.1M1369.4,395.4h15.1M1369.4,456.4h15.1M1369.4,517.5h15.1M1369.4,578.6h15.1M1369.4,639.6h15.1M1369.4,700.7h15.1M1369.4,761.8h15.1M1369.4,822.8h15.1M1369.4,883.9h15.1M1369.4,945.0h15.1M1369.4,1006.0h15.1M1369.4,1067.1h15.1M1369.4,1128.2h15.1M1369.4,1189.2h15.1M1369.4,1250.3h15.1" stroke="#000" stroke-width="3" fill="none"/>
<text x="1398.82" y="348.9" font-size="43.6" fill="#000" textLength="63.34" lengthAdjust="spacingAndGlyphs">4.0</text><text x="1398.82" y="410.0" font-size="43.6" fill="#000" textLength="63.34" lengthAdjust="spacingAndGlyphs">3.5</text><text x="1398.82" y="471.0" font-size="43.6" fill="#000" textLength="63.34" lengthAdjust="spacingAndGlyphs">3.0</text><text x="1398.82" y="532.1" font-size="43.6" fill="#000" textLength="63.34" lengthAdjust="spacingAndGlyphs">2.5</text><text x="1398.82" y="593.2" font-size="43.6" fill="#000" textLength="63.34" lengthAdjust="spacingAndGlyphs">2.0</text><text x="1398.82" y="654.2" font-size="43.6" fill="#000" textLength="63.34" lengthAdjust="spacingAndGlyphs">1.5</text><text x="1398.82" y="715.3" font-size="43.6" fill="#000" textLength="63.34" lengthAdjust="spacingAndGlyphs">1.0</text><text x="1398.82" y="776.4" font-size="43.6" fill="#000" textLength="63.34" lengthAdjust="spacingAndGlyphs">0.5</text><text x="1398.82" y="837.4" font-size="43.6" fill="#000" textLength="63.34" lengthAdjust="spacingAndGlyphs">0.0</text><text x="1401.20" y="898.5" font-size="43.6" fill="#000" textLength="30.89" lengthAdjust="spacingAndGlyphs">−</text><text x="1434.32" y="898.5" font-size="43.6" fill="#000" textLength="63.34" lengthAdjust="spacingAndGlyphs">0.5</text><text x="1401.20" y="959.6" font-size="43.6" fill="#000" textLength="30.89" lengthAdjust="spacingAndGlyphs">−</text><text x="1434.32" y="959.6" font-size="43.6" fill="#000" textLength="63.34" lengthAdjust="spacingAndGlyphs">1.0</text><text x="1401.20" y="1020.6" font-size="43.6" fill="#000" textLength="30.89" lengthAdjust="spacingAndGlyphs">−</text><text x="1434.32" y="1020.6" font-size="43.6" fill="#000" textLength="63.34" lengthAdjust="spacingAndGlyphs">1.5</text><text x="1401.20" y="1081.7" font-size="43.6" fill="#000" textLength="30.89" lengthAdjust="spacingAndGlyphs">−</text><text x="1434.32" y="1081.7" font-size="43.6" fill="#000" textLength="63.34" lengthAdjust="spacingAndGlyphs">2.0</text><text x="1401.20" y="1142.8" font-size="43.6" fill="#000" textLength="30.89" lengthAdjust="spacingAndGlyphs">−</text><text x="1434.32" y="1142.8" font-size="43.6" fill="#000" textLength="63.34" lengthAdjust="spacingAndGlyphs">2.5</text><text x="1401.20" y="1203.8" font-size="43.6" fill="#000" textLength="30.89" lengthAdjust="spacingAndGlyphs">−</text><text x="1434.32" y="1203.8" font-size="43.6" fill="#000" textLength="63.34" lengthAdjust="spacingAndGlyphs">3.0</text><text x="1401.20" y="1264.9" font-size="43.6" fill="#000" textLength="30.89" lengthAdjust="spacingAndGlyphs">−</text><text x="1434.32" y="1264.9" font-size="43.6" fill="#000" textLength="63.34" lengthAdjust="spacingAndGlyphs">3.5</text>
<text x="512.41" y="105.9" font-size="43.6" fill="#0000ff" textLength="547.78" lengthAdjust="spacingAndGlyphs">KNMI / ACSAF / EUMETSAT</text>
<text x="512.00" y="176.9" font-size="39.7" fill="#000" textLength="380.41" lengthAdjust="spacingAndGlyphs">GOME M03 O3MNAP</text>
<text x="511.60" y="216.8" font-size="36.3" fill="#000" textLength="686.60" lengthAdjust="spacingAndGlyphs">Sensing Start: 2025-09-03T07:35:56 UTC</text>
<text x="846.20" y="263.0" font-size="43.3" fill="#000" textLength="131.41" lengthAdjust="spacingAndGlyphs">AAI [-]</text>
<text x="1172.77" y="82.9" font-size="22.5" fill="#000" textLength="132.66" lengthAdjust="spacingAndGlyphs">Plot created:</text>
<text x="1041.50" y="106.7" font-size="22.3" fill="#000" textLength="270.21" lengthAdjust="spacingAndGlyphs">2025-09-03 14:36:54 UTC</text>
<text x="1190.18" y="188.6" font-size="25.3" fill="#ff0000" textLength="122.05" lengthAdjust="spacingAndGlyphs">Plot filter:</text>
<text x="1175.48" y="216.1" font-size="25.3" fill="#ff0000" textLength="136.44" lengthAdjust="spacingAndGlyphs">[AAI_Orbit]</text>
<text x="1108.79" y="244.8" font-size="25.3" fill="#ff0000" textLength="202.61" lengthAdjust="spacingAndGlyphs">Scat Angle &gt; 90</text>
<text x="1119.69" y="272.3" font-size="25.3" fill="#ff0000" textLength="191.62" lengthAdjust="spacingAndGlyphs">Sunglint visible</text>
</svg></body></html>
